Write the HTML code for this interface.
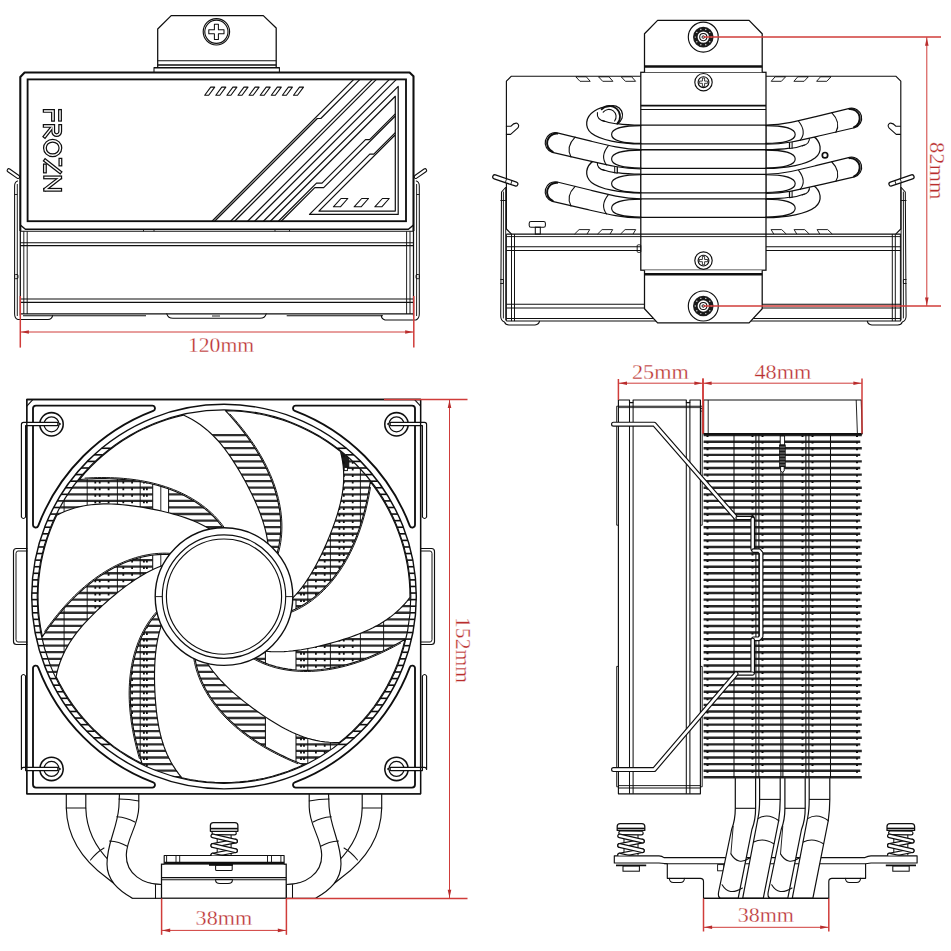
<!DOCTYPE html>
<html><head><meta charset="utf-8"><title>Cooler dimensions</title>
<style>
html,body{margin:0;padding:0;background:#fff;}
body{width:951px;height:951px;overflow:hidden;font-family:"Liberation Serif",serif;}
svg{display:block;}
svg text{font-family:"Liberation Serif",serif;}
svg .sans{font-family:"Liberation Sans",sans-serif;}
</style></head><body>
<svg width="951" height="951" viewBox="0 0 951 951">
<rect x="0" y="0" width="951" height="951" fill="#ffffff"/>
<g id="v1">
<polyline points="157.70,67.60 157.70,29.00 171.20,15.60 263.30,15.60 276.20,28.00 276.20,67.60" fill="none" stroke="#0f0f0f" stroke-width="1.265" stroke-linejoin="round" />
<line x1="157.70" y1="60.80" x2="276.20" y2="60.80" stroke="#0f0f0f" stroke-width="1.035" />
<line x1="157.70" y1="65.00" x2="276.20" y2="65.00" stroke="#0f0f0f" stroke-width="1.495" />
<polyline points="157.70,67.60 154.00,67.60 154.00,72.00" fill="none" stroke="#0f0f0f" stroke-width="1.035" stroke-linejoin="round" />
<polyline points="276.20,67.60 279.40,67.60 279.40,72.00" fill="none" stroke="#0f0f0f" stroke-width="1.035" stroke-linejoin="round" />
<line x1="154.00" y1="67.80" x2="279.40" y2="67.80" stroke="#0f0f0f" stroke-width="1.38" />
<circle cx="216.40" cy="31.80" r="13.20" fill="none" stroke="#0f0f0f" stroke-width="1.15" />
<circle cx="216.40" cy="31.80" r="11.60" fill="none" stroke="#0f0f0f" stroke-width="1.15" />
<polygon points="214.40,24.20 218.40,24.20 218.40,29.80 224.00,29.80 224.00,33.80 218.40,33.80 218.40,39.40 214.40,39.40 214.40,33.80 208.80,33.80 208.80,29.80 214.40,29.80" fill="none" stroke="#0f0f0f" stroke-width="1.035" stroke-linejoin="round" />
<path d="M17.6,181 Q14.6,182 14.6,186 L14.6,314 Q14.6,318.5 18,319.6 L48,319.6 Q52,319 52.6,315.6" fill="none" stroke="#0f0f0f" stroke-width="1.035" stroke-linejoin="round" stroke-linecap="round" />
<line x1="17.30" y1="184.00" x2="17.30" y2="316.00" stroke="#0f0f0f" stroke-width="0.92" />
<line x1="14.60" y1="194.50" x2="17.30" y2="194.50" stroke="#0f0f0f" stroke-width="0.92" />
<rect x="14.60" y="274.50" width="3.40" height="4.20" rx="1" fill="none" stroke="#0f0f0f" stroke-width="0.92" />
<line x1="8.8" y1="170.4" x2="18.0" y2="176.8" stroke="#0f0f0f" stroke-width="4.4" stroke-linecap="round"/>
<line x1="8.8" y1="170.4" x2="18.0" y2="176.8" stroke="#fff" stroke-width="2.2" stroke-linecap="round"/>
<line x1="425.0" y1="170.4" x2="415.8" y2="176.8" stroke="#0f0f0f" stroke-width="4.4" stroke-linecap="round"/>
<line x1="425.0" y1="170.4" x2="415.8" y2="176.8" stroke="#fff" stroke-width="2.2" stroke-linecap="round"/>
<path d="M416.3,181 Q419.3,182 419.3,186 L419.3,314 Q419.3,318.5 416,319.9 L385,319.9 Q381.5,319 381.3,315.6" fill="none" stroke="#0f0f0f" stroke-width="1.035" stroke-linejoin="round" stroke-linecap="round" />
<line x1="416.60" y1="184.00" x2="416.60" y2="316.00" stroke="#0f0f0f" stroke-width="0.92" />
<line x1="416.60" y1="194.50" x2="419.30" y2="194.50" stroke="#0f0f0f" stroke-width="0.92" />
<rect x="416.00" y="274.50" width="3.40" height="4.20" rx="1" fill="none" stroke="#0f0f0f" stroke-width="0.92" />
<polyline points="20.30,231.00 20.30,77.00 24.60,72.50 409.60,72.50 413.50,76.20 413.50,231.00" fill="#fff" stroke="#0f0f0f" stroke-width="2.07" stroke-linejoin="round" />
<polyline points="20.30,225.00 25.40,229.30 408.40,229.30 413.50,225.00" fill="none" stroke="#0f0f0f" stroke-width="1.495" stroke-linejoin="round" />
<rect x="27.60" y="79.40" width="378.40" height="141.80" rx="0" fill="none" stroke="#0f0f0f" stroke-width="1.84" />
<path d="M44.7,110.9 L53.0,110.9 L53.0,119.7" fill="none" stroke="#0f0f0f" stroke-width="3.9" stroke-linecap="square" stroke-linejoin="miter" stroke-miterlimit="6"/>
<path d="M60.0,110.9 L60.0,119.7" fill="none" stroke="#0f0f0f" stroke-width="3.9" stroke-linecap="square" stroke-linejoin="miter" stroke-miterlimit="6"/>
<path d="M44.7,125.9 L53.2,125.9 L53.2,131.6 A3.5,3.5 0 0 0 60.2,131.6 L60.2,125.9" fill="none" stroke="#0f0f0f" stroke-width="3.9" stroke-linecap="square" stroke-linejoin="miter" stroke-miterlimit="6"/>
<path d="M51.6,127.9 L44.8,136.4" fill="none" stroke="#0f0f0f" stroke-width="3.9" stroke-linecap="square" stroke-linejoin="miter" stroke-miterlimit="6"/>
<path d="M44.9,148 A7.75,7.3 0 1 0 60.4,148 A7.75,7.3 0 1 0 44.9,148 Z" fill="none" stroke="#0f0f0f" stroke-width="3.9" stroke-linecap="square" stroke-linejoin="miter" stroke-miterlimit="6"/>
<path d="M45.3,160.6 L60.0,172.1" fill="none" stroke="#0f0f0f" stroke-width="3.9" stroke-linecap="square" stroke-linejoin="miter" stroke-miterlimit="6"/>
<path d="M60.4,159.7 L60.4,164.5" fill="none" stroke="#0f0f0f" stroke-width="3.9" stroke-linecap="square" stroke-linejoin="miter" stroke-miterlimit="6"/>
<path d="M44.9,165.4 L44.9,171.5" fill="none" stroke="#0f0f0f" stroke-width="3.9" stroke-linecap="square" stroke-linejoin="miter" stroke-miterlimit="6"/>
<path d="M45.1,177.4 L60.2,177.4" fill="none" stroke="#0f0f0f" stroke-width="3.9" stroke-linecap="square" stroke-linejoin="miter" stroke-miterlimit="6"/>
<path d="M45.1,189.8 L60.2,189.8" fill="none" stroke="#0f0f0f" stroke-width="3.9" stroke-linecap="square" stroke-linejoin="miter" stroke-miterlimit="6"/>
<path d="M59.6,178.2 L45.7,189.0" fill="none" stroke="#0f0f0f" stroke-width="3.9" stroke-linecap="square" stroke-linejoin="miter" stroke-miterlimit="6"/>
<path d="M44.7,110.9 L53.0,110.9 L53.0,119.7" fill="none" stroke="#fff" stroke-width="1.45" stroke-linecap="square" stroke-linejoin="miter" stroke-miterlimit="6"/>
<path d="M60.0,110.9 L60.0,119.7" fill="none" stroke="#fff" stroke-width="1.45" stroke-linecap="square" stroke-linejoin="miter" stroke-miterlimit="6"/>
<path d="M44.7,125.9 L53.2,125.9 L53.2,131.6 A3.5,3.5 0 0 0 60.2,131.6 L60.2,125.9" fill="none" stroke="#fff" stroke-width="1.45" stroke-linecap="square" stroke-linejoin="miter" stroke-miterlimit="6"/>
<path d="M51.6,127.9 L44.8,136.4" fill="none" stroke="#fff" stroke-width="1.45" stroke-linecap="square" stroke-linejoin="miter" stroke-miterlimit="6"/>
<path d="M44.9,148 A7.75,7.3 0 1 0 60.4,148 A7.75,7.3 0 1 0 44.9,148 Z" fill="none" stroke="#fff" stroke-width="1.45" stroke-linecap="square" stroke-linejoin="miter" stroke-miterlimit="6"/>
<path d="M45.3,160.6 L60.0,172.1" fill="none" stroke="#fff" stroke-width="1.45" stroke-linecap="square" stroke-linejoin="miter" stroke-miterlimit="6"/>
<path d="M60.4,159.7 L60.4,164.5" fill="none" stroke="#fff" stroke-width="1.45" stroke-linecap="square" stroke-linejoin="miter" stroke-miterlimit="6"/>
<path d="M44.9,165.4 L44.9,171.5" fill="none" stroke="#fff" stroke-width="1.45" stroke-linecap="square" stroke-linejoin="miter" stroke-miterlimit="6"/>
<path d="M45.1,177.4 L60.2,177.4" fill="none" stroke="#fff" stroke-width="1.45" stroke-linecap="square" stroke-linejoin="miter" stroke-miterlimit="6"/>
<path d="M45.1,189.8 L60.2,189.8" fill="none" stroke="#fff" stroke-width="1.45" stroke-linecap="square" stroke-linejoin="miter" stroke-miterlimit="6"/>
<path d="M59.6,178.2 L45.7,189.0" fill="none" stroke="#fff" stroke-width="1.45" stroke-linecap="square" stroke-linejoin="miter" stroke-miterlimit="6"/>
<polygon points="204.70,95.30 208.70,95.30 214.70,87.10 210.70,87.10" fill="none" stroke="#0f0f0f" stroke-width="1.092" stroke-linejoin="round" />
<polygon points="215.80,95.30 219.80,95.30 225.80,87.10 221.80,87.10" fill="none" stroke="#0f0f0f" stroke-width="1.092" stroke-linejoin="round" />
<polygon points="226.90,95.30 230.90,95.30 236.90,87.10 232.90,87.10" fill="none" stroke="#0f0f0f" stroke-width="1.092" stroke-linejoin="round" />
<polygon points="238.00,95.30 242.00,95.30 248.00,87.10 244.00,87.10" fill="none" stroke="#0f0f0f" stroke-width="1.092" stroke-linejoin="round" />
<polygon points="249.10,95.30 253.10,95.30 259.10,87.10 255.10,87.10" fill="none" stroke="#0f0f0f" stroke-width="1.092" stroke-linejoin="round" />
<polygon points="260.20,95.30 264.20,95.30 270.20,87.10 266.20,87.10" fill="none" stroke="#0f0f0f" stroke-width="1.092" stroke-linejoin="round" />
<polygon points="271.30,95.30 275.30,95.30 281.30,87.10 277.30,87.10" fill="none" stroke="#0f0f0f" stroke-width="1.092" stroke-linejoin="round" />
<polygon points="282.40,95.30 286.40,95.30 292.40,87.10 288.40,87.10" fill="none" stroke="#0f0f0f" stroke-width="1.092" stroke-linejoin="round" />
<polygon points="293.50,95.30 297.50,95.30 303.50,87.10 299.50,87.10" fill="none" stroke="#0f0f0f" stroke-width="1.092" stroke-linejoin="round" />
<polygon points="333.40,206.80 340.40,206.80 347.80,198.50 341.00,198.50" fill="none" stroke="#0f0f0f" stroke-width="1.092" stroke-linejoin="round" />
<polygon points="354.10,206.80 361.10,206.80 368.50,198.50 361.70,198.50" fill="none" stroke="#0f0f0f" stroke-width="1.092" stroke-linejoin="round" />
<polygon points="374.80,206.80 381.80,206.80 389.20,198.50 382.40,198.50" fill="none" stroke="#0f0f0f" stroke-width="1.092" stroke-linejoin="round" />
<line x1="212.00" y1="221.20" x2="353.80" y2="79.40" stroke="#0f0f0f" stroke-width="1.208" />
<polyline points="214.60,221.20 317.30,118.50 320.80,118.50 359.90,79.40" fill="none" stroke="#0f0f0f" stroke-width="1.208" stroke-linejoin="round" />
<line x1="230.60" y1="221.20" x2="372.40" y2="79.40" stroke="#0f0f0f" stroke-width="1.208" />
<line x1="234.60" y1="221.20" x2="376.40" y2="79.40" stroke="#0f0f0f" stroke-width="1.208" />
<line x1="247.60" y1="221.20" x2="389.40" y2="79.40" stroke="#0f0f0f" stroke-width="1.208" />
<line x1="254.60" y1="221.20" x2="396.40" y2="79.40" stroke="#0f0f0f" stroke-width="1.208" />
<polyline points="263.40,221.20 398.20,86.40 398.20,214.40 309.50,214.40 369.80,154.10 373.80,154.10 395.30,132.60" fill="none" stroke="#0f0f0f" stroke-width="1.208" stroke-linejoin="round" />
<polyline points="270.40,221.20 395.30,96.30 395.30,211.10 318.90,211.10 395.30,134.70" fill="none" stroke="#0f0f0f" stroke-width="1.208" stroke-linejoin="round" />
<polyline points="278.40,221.20 316.50,183.10 322.00,183.10 365.50,139.60 369.60,139.60 395.30,113.90" fill="none" stroke="#0f0f0f" stroke-width="1.208" stroke-linejoin="round" />
<polyline points="281.20,221.20 314.80,187.60 323.70,187.60 395.30,116.00" fill="none" stroke="#0f0f0f" stroke-width="1.208" stroke-linejoin="round" />
<line x1="20.30" y1="231.30" x2="413.50" y2="231.30" stroke="#0f0f0f" stroke-width="1.035" />
<line x1="20.30" y1="242.70" x2="413.50" y2="242.70" stroke="#0f0f0f" stroke-width="1.15" />
<line x1="20.30" y1="245.60" x2="413.50" y2="245.60" stroke="#0f0f0f" stroke-width="1.15" />
<line x1="20.30" y1="299.00" x2="413.50" y2="299.00" stroke="#0f0f0f" stroke-width="1.15" />
<line x1="20.30" y1="302.40" x2="413.50" y2="302.40" stroke="#0f0f0f" stroke-width="1.15" />
<line x1="20.30" y1="313.80" x2="413.50" y2="313.80" stroke="#0f0f0f" stroke-width="1.15" />
<line x1="20.30" y1="231.00" x2="20.30" y2="315.60" stroke="#0f0f0f" stroke-width="1.265" />
<line x1="413.50" y1="231.00" x2="413.50" y2="315.60" stroke="#0f0f0f" stroke-width="1.265" />
<line x1="23.80" y1="231.30" x2="23.80" y2="314.00" stroke="#0f0f0f" stroke-width="0.92" />
<line x1="27.20" y1="231.30" x2="27.20" y2="314.00" stroke="#0f0f0f" stroke-width="0.92" />
<line x1="410.00" y1="231.30" x2="410.00" y2="314.00" stroke="#0f0f0f" stroke-width="0.92" />
<line x1="406.60" y1="231.30" x2="406.60" y2="314.00" stroke="#0f0f0f" stroke-width="0.92" />
<line x1="23.00" y1="315.70" x2="146.00" y2="315.70" stroke="#0f0f0f" stroke-width="1.035" />
<line x1="286.70" y1="315.70" x2="383.00" y2="315.70" stroke="#0f0f0f" stroke-width="1.035" />
<path d="M166.8,313.8 Q168,318.3 173,318.3 L260,318.3 Q265,318.3 266.2,313.8" fill="none" stroke="#0f0f0f" stroke-width="1.035" stroke-linejoin="round" stroke-linecap="round" />
<line x1="212.00" y1="316.00" x2="220.00" y2="316.00" stroke="#0f0f0f" stroke-width="0.92" />
<line x1="143.50" y1="229.30" x2="143.50" y2="231.30" stroke="#0f0f0f" stroke-width="0.92" />
<line x1="154.00" y1="229.30" x2="154.00" y2="231.30" stroke="#0f0f0f" stroke-width="0.92" />
<line x1="275.00" y1="229.30" x2="275.00" y2="231.30" stroke="#0f0f0f" stroke-width="0.92" />
<line x1="289.50" y1="229.30" x2="289.50" y2="231.30" stroke="#0f0f0f" stroke-width="0.92" />
</g>
<g id="v2">
<polyline points="511.50,234.10 506.40,229.00 506.40,81.20 511.40,76.20 895.80,76.20 900.80,81.20 900.80,229.00 895.70,234.10" fill="#fff" stroke="#0f0f0f" stroke-width="1.15" stroke-linejoin="round" />
<polygon points="575.80,76.80 586.30,76.80 590.20,81.30 580.00,81.30" fill="none" stroke="#0f0f0f" stroke-width="0.92" stroke-linejoin="round" />
<polygon points="831.00,76.80 820.50,76.80 816.60,81.30 826.80,81.30" fill="none" stroke="#0f0f0f" stroke-width="0.92" stroke-linejoin="round" />
<polygon points="598.50,76.80 609.00,76.80 612.90,81.30 602.70,81.30" fill="none" stroke="#0f0f0f" stroke-width="0.92" stroke-linejoin="round" />
<polygon points="808.30,76.80 797.80,76.80 793.90,81.30 804.10,81.30" fill="none" stroke="#0f0f0f" stroke-width="0.92" stroke-linejoin="round" />
<polygon points="621.20,76.80 631.70,76.80 635.60,81.30 625.40,81.30" fill="none" stroke="#0f0f0f" stroke-width="0.92" stroke-linejoin="round" />
<polygon points="785.60,76.80 775.10,76.80 771.20,81.30 781.40,81.30" fill="none" stroke="#0f0f0f" stroke-width="0.92" stroke-linejoin="round" />
<polyline points="574.50,234.10 579.10,229.60 589.70,229.60 587.00,234.10" fill="none" stroke="#0f0f0f" stroke-width="0.92" stroke-linejoin="round" />
<polyline points="832.30,234.10 827.70,229.60 817.10,229.60 819.80,234.10" fill="none" stroke="#0f0f0f" stroke-width="0.92" stroke-linejoin="round" />
<polyline points="597.50,234.10 602.10,229.60 612.70,229.60 610.00,234.10" fill="none" stroke="#0f0f0f" stroke-width="0.92" stroke-linejoin="round" />
<polyline points="809.30,234.10 804.70,229.60 794.10,229.60 796.80,234.10" fill="none" stroke="#0f0f0f" stroke-width="0.92" stroke-linejoin="round" />
<polyline points="620.50,234.10 625.10,229.60 635.70,229.60 633.00,234.10" fill="none" stroke="#0f0f0f" stroke-width="0.92" stroke-linejoin="round" />
<polyline points="786.30,234.10 781.70,229.60 771.10,229.60 773.80,234.10" fill="none" stroke="#0f0f0f" stroke-width="0.92" stroke-linejoin="round" />
<path d="M506.40,126.20 L511.00,126.20 Q514.00,122.60 517.00,123.20 Q520.00,125.00 517.60,128.20 L510.60,134.40 L506.40,134.40" fill="none" stroke="#0f0f0f" stroke-width="1.092" stroke-linejoin="round" stroke-linecap="round" />
<line x1="494.80" y1="176.9" x2="515.80" y2="184.0" stroke="#0f0f0f" stroke-width="5.4" stroke-linecap="round"/>
<line x1="494.80" y1="176.9" x2="515.80" y2="184.0" stroke="#fff" stroke-width="2.9" stroke-linecap="round"/>
<path d="M506.60,178.60 L505.40,182.60" fill="none" stroke="#0f0f0f" stroke-width="0.92" stroke-linejoin="round" stroke-linecap="round" />
<path d="M512.00,180.40 L510.80,184.40" fill="none" stroke="#0f0f0f" stroke-width="0.92" stroke-linejoin="round" stroke-linecap="round" />
<path d="M505.60,187.50 L501.50,192.00 L500.70,316.00 Q500.70,320.50 504.50,322.00 Q505.50,324.90 509.00,324.90 L535.00,324.90 Q539.00,324.50 539.50,321.20" fill="none" stroke="#0f0f0f" stroke-width="1.035" stroke-linejoin="round" stroke-linecap="round" />
<path d="M503.40,192.00 L503.40,318.00" fill="none" stroke="#0f0f0f" stroke-width="0.92" stroke-linejoin="round" stroke-linecap="round" />
<path d="M505.70,188.00 L505.70,320.00" fill="none" stroke="#0f0f0f" stroke-width="0.92" stroke-linejoin="round" stroke-linecap="round" />
<path d="M500.70,200.50 L505.70,200.50" fill="none" stroke="#0f0f0f" stroke-width="0.92" stroke-linejoin="round" stroke-linecap="round" />
<path d="M500.70,279.50 L503.40,279.50 L503.40,283.50 L500.70,283.50" fill="none" stroke="#0f0f0f" stroke-width="0.92" stroke-linejoin="round" stroke-linecap="round" />
<path d="M900.40,126.20 L895.80,126.20 Q892.80,122.60 889.80,123.20 Q886.80,125.00 889.20,128.20 L896.20,134.40 L900.40,134.40" fill="none" stroke="#0f0f0f" stroke-width="1.092" stroke-linejoin="round" stroke-linecap="round" />
<line x1="912.00" y1="176.9" x2="891.00" y2="184.0" stroke="#0f0f0f" stroke-width="5.4" stroke-linecap="round"/>
<line x1="912.00" y1="176.9" x2="891.00" y2="184.0" stroke="#fff" stroke-width="2.9" stroke-linecap="round"/>
<path d="M900.20,178.60 L901.40,182.60" fill="none" stroke="#0f0f0f" stroke-width="0.92" stroke-linejoin="round" stroke-linecap="round" />
<path d="M894.80,180.40 L896.00,184.40" fill="none" stroke="#0f0f0f" stroke-width="0.92" stroke-linejoin="round" stroke-linecap="round" />
<path d="M901.20,187.50 L905.30,192.00 L906.10,316.00 Q906.10,320.50 902.30,322.00 Q901.30,324.90 897.80,324.90 L871.80,324.90 Q867.80,324.50 867.30,321.20" fill="none" stroke="#0f0f0f" stroke-width="1.035" stroke-linejoin="round" stroke-linecap="round" />
<path d="M903.40,192.00 L903.40,318.00" fill="none" stroke="#0f0f0f" stroke-width="0.92" stroke-linejoin="round" stroke-linecap="round" />
<path d="M901.10,188.00 L901.10,320.00" fill="none" stroke="#0f0f0f" stroke-width="0.92" stroke-linejoin="round" stroke-linecap="round" />
<path d="M906.10,200.50 L901.10,200.50" fill="none" stroke="#0f0f0f" stroke-width="0.92" stroke-linejoin="round" stroke-linecap="round" />
<path d="M906.10,279.50 L903.40,279.50 L903.40,283.50 L906.10,283.50" fill="none" stroke="#0f0f0f" stroke-width="0.92" stroke-linejoin="round" stroke-linecap="round" />
<rect x="529.20" y="221.40" width="16.20" height="5.80" rx="1.8" fill="none" stroke="#0f0f0f" stroke-width="1.035" />
<rect x="535.30" y="227.20" width="5.00" height="6.90" rx="0" fill="none" stroke="#0f0f0f" stroke-width="1.035" />
<line x1="506.40" y1="234.10" x2="900.80" y2="234.10" stroke="#0f0f0f" stroke-width="1.15" />
<line x1="506.40" y1="236.60" x2="900.80" y2="236.60" stroke="#0f0f0f" stroke-width="0.92" />
<line x1="506.40" y1="246.70" x2="900.80" y2="246.70" stroke="#0f0f0f" stroke-width="1.15" />
<line x1="506.40" y1="250.50" x2="900.80" y2="250.50" stroke="#0f0f0f" stroke-width="1.15" />
<line x1="506.40" y1="304.20" x2="900.80" y2="304.20" stroke="#0f0f0f" stroke-width="1.15" />
<line x1="506.40" y1="308.00" x2="900.80" y2="308.00" stroke="#0f0f0f" stroke-width="1.15" />
<line x1="506.40" y1="318.60" x2="900.80" y2="318.60" stroke="#0f0f0f" stroke-width="1.035" />
<line x1="506.40" y1="321.10" x2="900.80" y2="321.10" stroke="#0f0f0f" stroke-width="1.035" />
<line x1="506.40" y1="234.10" x2="506.40" y2="321.10" stroke="#0f0f0f" stroke-width="0.977" />
<line x1="900.40" y1="234.10" x2="900.40" y2="321.10" stroke="#0f0f0f" stroke-width="0.977" />
<line x1="511.50" y1="234.10" x2="511.50" y2="321.10" stroke="#0f0f0f" stroke-width="0.977" />
<line x1="895.30" y1="234.10" x2="895.30" y2="321.10" stroke="#0f0f0f" stroke-width="0.977" />
<line x1="514.50" y1="234.10" x2="514.50" y2="321.10" stroke="#0f0f0f" stroke-width="0.977" />
<line x1="892.30" y1="234.10" x2="892.30" y2="321.10" stroke="#0f0f0f" stroke-width="0.977" />
<path d="M641.00,143.90 C620.00,143.90 600.00,140.00 591.50,133.30 C584.00,127.00 585.50,117.00 594.00,111.30 C598.00,108.40 603.00,106.60 608.80,106.60 A8.9,8.9 0 0 1 617.30,123.60 C625.00,124.80 633.00,125.10 641.00,125.10 Z" fill="#fff" stroke="#0f0f0f" stroke-width="1.265" stroke-linejoin="round" stroke-linecap="round" />
<path d="M603.20,112.20 A6.6,6.6 0 0 1 614.60,121.00" fill="none" stroke="#0f0f0f" stroke-width="1.092" stroke-linejoin="round" stroke-linecap="round" />
<path d="M601.60,109.40 A8.9,8.9 0 0 1 617.30,123.60" fill="none" stroke="#0f0f0f" stroke-width="1.725" stroke-linejoin="round" stroke-linecap="round" />
<path d="M597.40,112.60 Q596.50,119.50 604.60,121.40" fill="none" stroke="#0f0f0f" stroke-width="1.092" stroke-linejoin="round" stroke-linecap="round" />
<path d="M602.40,120.40 C608.00,122.60 612.00,123.40 617.30,124.00" fill="none" stroke="#0f0f0f" stroke-width="1.092" stroke-linejoin="round" stroke-linecap="round" />
<path d="M641.00,193.00 C620.00,193.00 600.00,189.10 591.50,182.40 C584.00,176.10 585.50,166.10 594.00,160.40 L617.30,164.10 L617.30,172.70 C625.00,173.90 633.00,174.20 641.00,174.20 Z" fill="#fff" stroke="#0f0f0f" stroke-width="1.265" stroke-linejoin="round" stroke-linecap="round" />
<path d="M614.70,164.10 L614.70,172.70" fill="none" stroke="#0f0f0f" stroke-width="1.035" stroke-linejoin="round" stroke-linecap="round" />
<path d="M597.40,161.70 Q596.50,168.60 604.60,170.50" fill="none" stroke="#0f0f0f" stroke-width="1.092" stroke-linejoin="round" stroke-linecap="round" />
<path d="M602.40,169.50 C608.00,171.70 612.00,172.50 617.30,173.10" fill="none" stroke="#0f0f0f" stroke-width="1.092" stroke-linejoin="round" stroke-linecap="round" />
<path d="M765.80,168.45 C786.80,168.45 806.80,164.55 815.30,157.85 C822.80,151.55 821.30,141.55 812.80,135.85 L789.50,139.55 L789.50,148.15 C781.80,149.35 773.80,149.65 765.80,149.65 Z" fill="#fff" stroke="#0f0f0f" stroke-width="1.265" stroke-linejoin="round" stroke-linecap="round" />
<path d="M792.10,139.55 L792.10,148.15" fill="none" stroke="#0f0f0f" stroke-width="1.035" stroke-linejoin="round" stroke-linecap="round" />
<path d="M809.40,137.15 Q810.30,144.05 802.20,145.95" fill="none" stroke="#0f0f0f" stroke-width="1.092" stroke-linejoin="round" stroke-linecap="round" />
<path d="M804.40,144.95 C798.80,147.15 794.80,147.95 789.50,148.55" fill="none" stroke="#0f0f0f" stroke-width="1.092" stroke-linejoin="round" stroke-linecap="round" />
<path d="M765.80,217.55 C786.80,217.55 806.80,213.65 815.30,206.95 C822.80,200.65 821.30,190.65 812.80,184.95 L789.50,188.65 L789.50,197.25 C781.80,198.45 773.80,198.75 765.80,198.75 Z" fill="#fff" stroke="#0f0f0f" stroke-width="1.265" stroke-linejoin="round" stroke-linecap="round" />
<path d="M792.10,188.65 L792.10,197.25" fill="none" stroke="#0f0f0f" stroke-width="1.035" stroke-linejoin="round" stroke-linecap="round" />
<path d="M809.40,186.25 Q810.30,193.15 802.20,195.05" fill="none" stroke="#0f0f0f" stroke-width="1.092" stroke-linejoin="round" stroke-linecap="round" />
<path d="M804.40,194.05 C798.80,196.25 794.80,197.05 789.50,197.65" fill="none" stroke="#0f0f0f" stroke-width="1.092" stroke-linejoin="round" stroke-linecap="round" />
<path d="M641.00,149.70 C622.00,149.20 607.00,145.20 590.00,140.90 L557.20,132.90 A10.0,10.0 0 0 0 552.40,152.30 L584.70,159.80 C606.00,164.80 620.00,168.60 641.00,168.80 Z" fill="#fff" stroke="#0f0f0f" stroke-width="1.208" stroke-linejoin="round" stroke-linecap="round" />
<path d="M557.30,133.60 A9.5,9.5 0 0 0 552.80,151.80" fill="none" stroke="#0f0f0f" stroke-width="1.955" stroke-linejoin="round" stroke-linecap="round" />
<path d="M575.10,137.20 Q565.50,147.00 571.00,157.00" fill="none" stroke="#0f0f0f" stroke-width="1.092" stroke-linejoin="round" stroke-linecap="round" />
<path d="M608.20,145.80 Q599.80,156.50 606.60,164.80" fill="none" stroke="#0f0f0f" stroke-width="1.092" stroke-linejoin="round" stroke-linecap="round" />
<path d="M641.00,198.80 C622.00,198.30 607.00,194.30 590.00,190.00 L557.20,182.00 A10.0,10.0 0 0 0 552.40,201.40 L584.70,208.90 C606.00,213.90 620.00,217.70 641.00,217.90 Z" fill="#fff" stroke="#0f0f0f" stroke-width="1.208" stroke-linejoin="round" stroke-linecap="round" />
<path d="M557.30,182.70 A9.5,9.5 0 0 0 552.80,200.90" fill="none" stroke="#0f0f0f" stroke-width="1.955" stroke-linejoin="round" stroke-linecap="round" />
<path d="M575.10,186.30 Q565.50,196.10 571.00,206.10" fill="none" stroke="#0f0f0f" stroke-width="1.092" stroke-linejoin="round" stroke-linecap="round" />
<path d="M608.20,194.90 Q599.80,205.60 606.60,213.90" fill="none" stroke="#0f0f0f" stroke-width="1.092" stroke-linejoin="round" stroke-linecap="round" />
<path d="M765.80,125.15 C784.80,124.65 799.80,120.65 816.80,116.35 L849.60,108.35 A10.0,10.0 0 0 1 854.40,127.75 L822.10,135.25 C800.80,140.25 786.80,144.05 765.80,144.25 Z" fill="#fff" stroke="#0f0f0f" stroke-width="1.208" stroke-linejoin="round" stroke-linecap="round" />
<path d="M849.50,109.05 A9.5,9.5 0 0 1 854.00,127.25" fill="none" stroke="#0f0f0f" stroke-width="1.955" stroke-linejoin="round" stroke-linecap="round" />
<path d="M831.70,112.65 Q841.30,122.45 835.80,132.45" fill="none" stroke="#0f0f0f" stroke-width="1.092" stroke-linejoin="round" stroke-linecap="round" />
<path d="M798.60,121.25 Q807.00,131.95 800.20,140.25" fill="none" stroke="#0f0f0f" stroke-width="1.092" stroke-linejoin="round" stroke-linecap="round" />
<path d="M765.80,174.25 C784.80,173.75 799.80,169.75 816.80,165.45 L849.60,157.45 A10.0,10.0 0 0 1 854.40,176.85 L822.10,184.35 C800.80,189.35 786.80,193.15 765.80,193.35 Z" fill="#fff" stroke="#0f0f0f" stroke-width="1.208" stroke-linejoin="round" stroke-linecap="round" />
<path d="M849.50,158.15 A9.5,9.5 0 0 1 854.00,176.35" fill="none" stroke="#0f0f0f" stroke-width="1.955" stroke-linejoin="round" stroke-linecap="round" />
<path d="M831.70,161.75 Q841.30,171.55 835.80,181.55" fill="none" stroke="#0f0f0f" stroke-width="1.092" stroke-linejoin="round" stroke-linecap="round" />
<path d="M798.60,170.35 Q807.00,181.05 800.20,189.35" fill="none" stroke="#0f0f0f" stroke-width="1.092" stroke-linejoin="round" stroke-linecap="round" />
<circle cx="825.00" cy="155.20" r="2.70" fill="none" stroke="#0f0f0f" stroke-width="1.725" />
<rect x="640.80" y="72.30" width="125.20" height="197.90" rx="0" fill="#fff" stroke="#0f0f0f" stroke-width="1.265" />
<line x1="640.80" y1="125.20" x2="766.00" y2="125.20" stroke="#0f0f0f" stroke-width="1.265" />
<line x1="640.80" y1="143.80" x2="766.00" y2="143.80" stroke="#0f0f0f" stroke-width="1.265" />
<path d="M641.00,125.60 C624.00,125.60 611.60,128.40 611.60,134.50 C611.60,140.60 624.00,143.40 641.00,143.40" fill="none" stroke="#0f0f0f" stroke-width="1.15" stroke-linejoin="round" stroke-linecap="round" />
<path d="M765.80,125.60 C782.80,125.60 795.20,128.40 795.20,134.50 C795.20,140.60 782.80,143.40 765.80,143.40" fill="none" stroke="#0f0f0f" stroke-width="1.15" stroke-linejoin="round" stroke-linecap="round" />
<line x1="640.80" y1="149.75" x2="766.00" y2="149.75" stroke="#0f0f0f" stroke-width="1.265" />
<line x1="640.80" y1="168.35" x2="766.00" y2="168.35" stroke="#0f0f0f" stroke-width="1.265" />
<path d="M641.00,150.15 C624.00,150.15 611.60,152.95 611.60,159.05 C611.60,165.15 624.00,167.95 641.00,167.95" fill="none" stroke="#0f0f0f" stroke-width="1.15" stroke-linejoin="round" stroke-linecap="round" />
<path d="M765.80,150.15 C782.80,150.15 795.20,152.95 795.20,159.05 C795.20,165.15 782.80,167.95 765.80,167.95" fill="none" stroke="#0f0f0f" stroke-width="1.15" stroke-linejoin="round" stroke-linecap="round" />
<line x1="640.80" y1="174.30" x2="766.00" y2="174.30" stroke="#0f0f0f" stroke-width="1.265" />
<line x1="640.80" y1="192.90" x2="766.00" y2="192.90" stroke="#0f0f0f" stroke-width="1.265" />
<path d="M641.00,174.70 C624.00,174.70 611.60,177.50 611.60,183.60 C611.60,189.70 624.00,192.50 641.00,192.50" fill="none" stroke="#0f0f0f" stroke-width="1.15" stroke-linejoin="round" stroke-linecap="round" />
<path d="M765.80,174.70 C782.80,174.70 795.20,177.50 795.20,183.60 C795.20,189.70 782.80,192.50 765.80,192.50" fill="none" stroke="#0f0f0f" stroke-width="1.15" stroke-linejoin="round" stroke-linecap="round" />
<line x1="640.80" y1="198.85" x2="766.00" y2="198.85" stroke="#0f0f0f" stroke-width="1.265" />
<line x1="640.80" y1="217.45" x2="766.00" y2="217.45" stroke="#0f0f0f" stroke-width="1.265" />
<path d="M641.00,199.25 C624.00,199.25 611.60,202.05 611.60,208.15 C611.60,214.25 624.00,217.05 641.00,217.05" fill="none" stroke="#0f0f0f" stroke-width="1.15" stroke-linejoin="round" stroke-linecap="round" />
<path d="M765.80,199.25 C782.80,199.25 795.20,202.05 795.20,208.15 C795.20,214.25 782.80,217.05 765.80,217.05" fill="none" stroke="#0f0f0f" stroke-width="1.15" stroke-linejoin="round" stroke-linecap="round" />
<line x1="640.80" y1="105.60" x2="766.00" y2="105.60" stroke="#0f0f0f" stroke-width="1.725" />
<line x1="640.80" y1="109.40" x2="766.00" y2="109.40" stroke="#0f0f0f" stroke-width="1.035" />
<line x1="640.80" y1="234.10" x2="766.00" y2="234.10" stroke="#0f0f0f" stroke-width="1.15" />
<line x1="640.80" y1="236.60" x2="766.00" y2="236.60" stroke="#0f0f0f" stroke-width="0.92" />
<rect x="637.20" y="244.80" width="3.60" height="7.60" rx="1" fill="none" stroke="#0f0f0f" stroke-width="0.92" />
<polyline points="644.50,72.30 644.50,33.70 657.60,20.40 749.10,20.40 762.20,33.70 762.20,72.30" fill="#fff" stroke="#0f0f0f" stroke-width="1.265" stroke-linejoin="round" />
<line x1="644.50" y1="66.40" x2="762.20" y2="66.40" stroke="#0f0f0f" stroke-width="2.53" />
<polyline points="644.50,270.20 644.50,308.80 657.60,322.90 749.10,322.90 762.20,308.80 762.20,270.20" fill="#fff" stroke="#0f0f0f" stroke-width="1.265" stroke-linejoin="round" />
<line x1="644.50" y1="274.20" x2="762.20" y2="274.20" stroke="#0f0f0f" stroke-width="2.53" />
<circle cx="703.30" cy="37.10" r="15.00" fill="none" stroke="#0f0f0f" stroke-width="1.15" />
<circle cx="703.30" cy="37.10" r="8.00" fill="none" stroke="#1a1a1a" stroke-width="4.6" />
<circle cx="711.30" cy="37.10" r="0.7" fill="#ddd"/>
<circle cx="709.77" cy="41.80" r="0.7" fill="#ddd"/>
<circle cx="705.77" cy="44.71" r="0.7" fill="#ddd"/>
<circle cx="700.83" cy="44.71" r="0.7" fill="#ddd"/>
<circle cx="696.83" cy="41.80" r="0.7" fill="#ddd"/>
<circle cx="695.30" cy="37.10" r="0.7" fill="#ddd"/>
<circle cx="696.83" cy="32.40" r="0.7" fill="#ddd"/>
<circle cx="700.83" cy="29.49" r="0.7" fill="#ddd"/>
<circle cx="705.77" cy="29.49" r="0.7" fill="#ddd"/>
<circle cx="709.77" cy="32.40" r="0.7" fill="#ddd"/>
<circle cx="703.30" cy="37.10" r="3.60" fill="none" stroke="#0f0f0f" stroke-width="1.035" />
<circle cx="703.30" cy="37.10" r="1.30" fill="none" stroke="#0f0f0f" stroke-width="0.92" />
<circle cx="703.30" cy="306.00" r="15.00" fill="none" stroke="#0f0f0f" stroke-width="1.15" />
<circle cx="703.30" cy="306.00" r="8.00" fill="none" stroke="#1a1a1a" stroke-width="4.6" />
<circle cx="711.30" cy="306.00" r="0.7" fill="#ddd"/>
<circle cx="709.77" cy="310.70" r="0.7" fill="#ddd"/>
<circle cx="705.77" cy="313.61" r="0.7" fill="#ddd"/>
<circle cx="700.83" cy="313.61" r="0.7" fill="#ddd"/>
<circle cx="696.83" cy="310.70" r="0.7" fill="#ddd"/>
<circle cx="695.30" cy="306.00" r="0.7" fill="#ddd"/>
<circle cx="696.83" cy="301.30" r="0.7" fill="#ddd"/>
<circle cx="700.83" cy="298.39" r="0.7" fill="#ddd"/>
<circle cx="705.77" cy="298.39" r="0.7" fill="#ddd"/>
<circle cx="709.77" cy="301.30" r="0.7" fill="#ddd"/>
<circle cx="703.30" cy="306.00" r="3.60" fill="none" stroke="#0f0f0f" stroke-width="1.035" />
<circle cx="703.30" cy="306.00" r="1.30" fill="none" stroke="#0f0f0f" stroke-width="0.92" />
<circle cx="703.50" cy="82.20" r="8.70" fill="none" stroke="#0f0f0f" stroke-width="1.15" />
<circle cx="703.50" cy="82.20" r="5.40" fill="none" stroke="#0f0f0f" stroke-width="1.15" />
<polygon points="702.40,78.00 704.60,78.00 704.60,81.10 707.70,81.10 707.70,83.30 704.60,83.30 704.60,86.40 702.40,86.40 702.40,83.30 699.30,83.30 699.30,81.10 702.40,81.10" fill="none" stroke="#0f0f0f" stroke-width="0.805" stroke-linejoin="round" />
<circle cx="703.50" cy="260.60" r="8.70" fill="none" stroke="#0f0f0f" stroke-width="1.15" />
<circle cx="703.50" cy="260.60" r="5.40" fill="none" stroke="#0f0f0f" stroke-width="1.15" />
<polygon points="702.40,256.40 704.60,256.40 704.60,259.50 707.70,259.50 707.70,261.70 704.60,261.70 704.60,264.80 702.40,264.80 702.40,261.70 699.30,261.70 699.30,259.50 702.40,259.50" fill="none" stroke="#0f0f0f" stroke-width="0.805" stroke-linejoin="round" />
</g>
<g id="v3">
<defs><clipPath id="fanclip"><circle cx="224.0" cy="596.6" r="192.3"/></clipPath></defs>
<path d="M66.30,793.00 L66.30,808.00 C67.00,840.00 85.00,862.00 107.00,878.00 L132.50,898.20 L161.60,898.20 L161.60,884.50 C125.00,884.50 87.00,850.00 85.80,808.00 L85.80,793.00 Z" fill="#fff" stroke="#0f0f0f" stroke-width="1.15" stroke-linejoin="round" stroke-linecap="round" />
<path d="M66.30,808.00 L85.80,808.00" fill="none" stroke="#0f0f0f" stroke-width="1.035" stroke-linejoin="round" stroke-linecap="round" />
<path d="M90.50,860.00 Q97.00,852.00 104.00,848.00" fill="none" stroke="#0f0f0f" stroke-width="1.035" stroke-linejoin="round" stroke-linecap="round" />
<path d="M119.50,793.00 L118.90,807.00 C117.00,830.00 107.00,842.00 107.00,864.00 C107.00,880.00 118.00,890.00 132.50,898.20 L161.60,898.20 L161.60,884.50 C143.00,884.50 126.00,874.00 126.30,855.00 C126.50,838.00 138.60,826.00 138.80,807.00 L138.80,793.00 Z" fill="#fff" stroke="#0f0f0f" stroke-width="1.15" stroke-linejoin="round" stroke-linecap="round" />
<path d="M119.00,799.00 Q129.00,799.00 138.80,801.00" fill="none" stroke="#0f0f0f" stroke-width="1.035" stroke-linejoin="round" stroke-linecap="round" />
<path d="M116.80,816.80 Q127.00,817.50 134.80,822.00" fill="none" stroke="#0f0f0f" stroke-width="1.035" stroke-linejoin="round" stroke-linecap="round" />
<path d="M109.50,841.00 Q119.00,841.50 127.30,846.30" fill="none" stroke="#0f0f0f" stroke-width="1.035" stroke-linejoin="round" stroke-linecap="round" />
<path d="M155.50,884.50 L155.50,898.20" fill="none" stroke="#0f0f0f" stroke-width="1.035" stroke-linejoin="round" stroke-linecap="round" />
<path d="M381.70,793.00 L381.70,808.00 C381.00,840.00 363.00,862.00 341.00,878.00 L315.50,898.20 L286.40,898.20 L286.40,884.50 C323.00,884.50 361.00,850.00 362.20,808.00 L362.20,793.00 Z" fill="#fff" stroke="#0f0f0f" stroke-width="1.15" stroke-linejoin="round" stroke-linecap="round" />
<path d="M381.70,808.00 L362.20,808.00" fill="none" stroke="#0f0f0f" stroke-width="1.035" stroke-linejoin="round" stroke-linecap="round" />
<path d="M357.50,860.00 Q351.00,852.00 344.00,848.00" fill="none" stroke="#0f0f0f" stroke-width="1.035" stroke-linejoin="round" stroke-linecap="round" />
<path d="M328.50,793.00 L329.10,807.00 C331.00,830.00 341.00,842.00 341.00,864.00 C341.00,880.00 330.00,890.00 315.50,898.20 L286.40,898.20 L286.40,884.50 C305.00,884.50 322.00,874.00 321.70,855.00 C321.50,838.00 309.40,826.00 309.20,807.00 L309.20,793.00 Z" fill="#fff" stroke="#0f0f0f" stroke-width="1.15" stroke-linejoin="round" stroke-linecap="round" />
<path d="M329.00,799.00 Q319.00,799.00 309.20,801.00" fill="none" stroke="#0f0f0f" stroke-width="1.035" stroke-linejoin="round" stroke-linecap="round" />
<path d="M331.20,816.80 Q321.00,817.50 313.20,822.00" fill="none" stroke="#0f0f0f" stroke-width="1.035" stroke-linejoin="round" stroke-linecap="round" />
<path d="M338.50,841.00 Q329.00,841.50 320.70,846.30" fill="none" stroke="#0f0f0f" stroke-width="1.035" stroke-linejoin="round" stroke-linecap="round" />
<path d="M292.50,884.50 L292.50,898.20" fill="none" stroke="#0f0f0f" stroke-width="1.035" stroke-linejoin="round" stroke-linecap="round" />
<rect x="161.50" y="864.20" width="124.70" height="34.00" rx="0" fill="#fff" stroke="#0f0f0f" stroke-width="1.265" />
<line x1="161.50" y1="877.60" x2="286.20" y2="877.60" stroke="#0f0f0f" stroke-width="1.15" />
<line x1="161.50" y1="879.80" x2="286.20" y2="879.80" stroke="#0f0f0f" stroke-width="1.035" />
<polyline points="164.20,864.20 164.20,855.50 284.10,855.50 284.10,864.20" fill="#fff" stroke="#0f0f0f" stroke-width="1.15" stroke-linejoin="round" />
<line x1="164.20" y1="862.90" x2="284.10" y2="862.90" stroke="#0f0f0f" stroke-width="2.07" />
<line x1="166.60" y1="855.50" x2="166.60" y2="862.50" stroke="#0f0f0f" stroke-width="0.92" />
<line x1="176.00" y1="855.50" x2="176.00" y2="862.50" stroke="#0f0f0f" stroke-width="0.92" />
<line x1="179.70" y1="855.50" x2="179.70" y2="862.50" stroke="#0f0f0f" stroke-width="0.92" />
<line x1="267.50" y1="855.50" x2="267.50" y2="862.50" stroke="#0f0f0f" stroke-width="0.92" />
<line x1="271.50" y1="855.50" x2="271.50" y2="862.50" stroke="#0f0f0f" stroke-width="0.92" />
<line x1="280.90" y1="855.50" x2="280.90" y2="862.50" stroke="#0f0f0f" stroke-width="0.92" />
<clipPath id="spc210_831"><rect x="207.4" y="830.5" width="33.5" height="24.799999999999955"/></clipPath><g clip-path="url(#spc210_831)">
<line x1="217.20" y1="831.50" x2="217.20" y2="855.30" stroke="#0f0f0f" stroke-width="1.035" />
<line x1="231.10" y1="831.50" x2="231.10" y2="855.30" stroke="#0f0f0f" stroke-width="1.035" />
<line x1="213.85" y1="832.70" x2="234.45" y2="833.10" stroke="#0f0f0f" stroke-width="4.9" stroke-linecap="round"/>
<line x1="213.85" y1="832.70" x2="234.45" y2="833.10" stroke="#fff" stroke-width="2.5" stroke-linecap="round"/>
<line x1="235.45" y1="841.10" x2="212.85" y2="845.50" stroke="#0f0f0f" stroke-width="4.9" stroke-linecap="round"/>
<line x1="235.45" y1="841.10" x2="212.85" y2="845.50" stroke="#fff" stroke-width="2.5" stroke-linecap="round"/>
<line x1="235.45" y1="850.70" x2="212.85" y2="855.10" stroke="#0f0f0f" stroke-width="4.9" stroke-linecap="round"/>
<line x1="235.45" y1="850.70" x2="212.85" y2="855.10" stroke="#fff" stroke-width="2.5" stroke-linecap="round"/>
<line x1="235.45" y1="860.30" x2="212.85" y2="864.70" stroke="#0f0f0f" stroke-width="4.9" stroke-linecap="round"/>
<line x1="235.45" y1="860.30" x2="212.85" y2="864.70" stroke="#fff" stroke-width="2.5" stroke-linecap="round"/>
<line x1="212.85" y1="835.90" x2="235.45" y2="841.10" stroke="#0f0f0f" stroke-width="4.9" stroke-linecap="round"/>
<line x1="212.85" y1="835.90" x2="235.45" y2="841.10" stroke="#fff" stroke-width="2.5" stroke-linecap="round"/>
<line x1="212.85" y1="845.50" x2="235.45" y2="850.70" stroke="#0f0f0f" stroke-width="4.9" stroke-linecap="round"/>
<line x1="212.85" y1="845.50" x2="235.45" y2="850.70" stroke="#fff" stroke-width="2.5" stroke-linecap="round"/>
<line x1="212.85" y1="855.10" x2="235.45" y2="860.30" stroke="#0f0f0f" stroke-width="4.9" stroke-linecap="round"/>
<line x1="212.85" y1="855.10" x2="235.45" y2="860.30" stroke="#fff" stroke-width="2.5" stroke-linecap="round"/>
</g>
<path d="M210.4,831.3 L210.4,825.6 Q210.4,822.6 213.4,822.6 L234.9,822.6 Q237.9,822.6 237.9,825.6 L237.9,831.3 Z" fill="#fff" stroke="#0f0f0f" stroke-width="1.265" stroke-linejoin="round" stroke-linecap="round" />
<line x1="210.40" y1="828.60" x2="237.90" y2="828.60" stroke="#0f0f0f" stroke-width="1.61" />
<rect x="215.60" y="865.00" width="16.60" height="5.60" rx="1" fill="#fff" stroke="#0f0f0f" stroke-width="1.035" />
<line x1="209.00" y1="864.90" x2="233.00" y2="864.90" stroke="#0f0f0f" stroke-width="1.84" />
<path d="M215.5,879.5 L232.5,879.5 Q232.5,883.6 228,883.6 L220,883.6 Q215.5,883.6 215.5,879.5 Z" fill="none" stroke="#0f0f0f" stroke-width="1.035" stroke-linejoin="round" stroke-linecap="round" />
<polygon points="26.80,399.50 420.60,399.50 420.60,793.80 26.80,793.80" fill="#fff" stroke="#0f0f0f" stroke-width="1.265" stroke-linejoin="round" />
<g clip-path="url(#fanclip)">
<line x1="28.00" y1="435.05" x2="420.00" y2="435.05" stroke="#2e2e2e" stroke-width="2.3" />
<line x1="28.00" y1="441.63" x2="420.00" y2="441.63" stroke="#2e2e2e" stroke-width="2.3" />
<line x1="28.00" y1="448.21" x2="420.00" y2="448.21" stroke="#2e2e2e" stroke-width="2.3" />
<line x1="28.00" y1="454.79" x2="420.00" y2="454.79" stroke="#2e2e2e" stroke-width="2.3" />
<line x1="28.00" y1="461.37" x2="420.00" y2="461.37" stroke="#2e2e2e" stroke-width="2.3" />
<line x1="28.00" y1="467.95" x2="420.00" y2="467.95" stroke="#2e2e2e" stroke-width="2.3" />
<line x1="28.00" y1="474.53" x2="420.00" y2="474.53" stroke="#2e2e2e" stroke-width="2.3" />
<line x1="28.00" y1="481.12" x2="420.00" y2="481.12" stroke="#2e2e2e" stroke-width="2.3" />
<line x1="28.00" y1="487.70" x2="420.00" y2="487.70" stroke="#2e2e2e" stroke-width="2.3" />
<line x1="28.00" y1="494.28" x2="420.00" y2="494.28" stroke="#2e2e2e" stroke-width="2.3" />
<line x1="28.00" y1="500.86" x2="420.00" y2="500.86" stroke="#2e2e2e" stroke-width="2.3" />
<line x1="28.00" y1="507.44" x2="420.00" y2="507.44" stroke="#2e2e2e" stroke-width="2.3" />
<line x1="28.00" y1="514.02" x2="420.00" y2="514.02" stroke="#2e2e2e" stroke-width="2.3" />
<line x1="28.00" y1="520.60" x2="420.00" y2="520.60" stroke="#2e2e2e" stroke-width="2.3" />
<line x1="28.00" y1="527.18" x2="420.00" y2="527.18" stroke="#2e2e2e" stroke-width="2.3" />
<line x1="28.00" y1="533.76" x2="420.00" y2="533.76" stroke="#2e2e2e" stroke-width="2.3" />
<line x1="28.00" y1="540.34" x2="420.00" y2="540.34" stroke="#2e2e2e" stroke-width="2.3" />
<line x1="28.00" y1="546.92" x2="420.00" y2="546.92" stroke="#2e2e2e" stroke-width="2.3" />
<line x1="28.00" y1="553.50" x2="420.00" y2="553.50" stroke="#2e2e2e" stroke-width="2.3" />
<line x1="28.00" y1="560.08" x2="420.00" y2="560.08" stroke="#2e2e2e" stroke-width="2.3" />
<line x1="28.00" y1="566.67" x2="420.00" y2="566.67" stroke="#2e2e2e" stroke-width="2.3" />
<line x1="28.00" y1="573.25" x2="420.00" y2="573.25" stroke="#2e2e2e" stroke-width="2.3" />
<line x1="28.00" y1="579.83" x2="420.00" y2="579.83" stroke="#2e2e2e" stroke-width="2.3" />
<line x1="28.00" y1="586.41" x2="420.00" y2="586.41" stroke="#2e2e2e" stroke-width="2.3" />
<line x1="28.00" y1="592.99" x2="420.00" y2="592.99" stroke="#2e2e2e" stroke-width="2.3" />
<line x1="28.00" y1="599.57" x2="420.00" y2="599.57" stroke="#2e2e2e" stroke-width="2.3" />
<line x1="28.00" y1="606.15" x2="420.00" y2="606.15" stroke="#2e2e2e" stroke-width="2.3" />
<line x1="28.00" y1="612.73" x2="420.00" y2="612.73" stroke="#2e2e2e" stroke-width="2.3" />
<line x1="28.00" y1="619.31" x2="420.00" y2="619.31" stroke="#2e2e2e" stroke-width="2.3" />
<line x1="28.00" y1="625.89" x2="420.00" y2="625.89" stroke="#2e2e2e" stroke-width="2.3" />
<line x1="28.00" y1="632.47" x2="420.00" y2="632.47" stroke="#2e2e2e" stroke-width="2.3" />
<line x1="28.00" y1="639.05" x2="420.00" y2="639.05" stroke="#2e2e2e" stroke-width="2.3" />
<line x1="28.00" y1="645.63" x2="420.00" y2="645.63" stroke="#2e2e2e" stroke-width="2.3" />
<line x1="28.00" y1="652.22" x2="420.00" y2="652.22" stroke="#2e2e2e" stroke-width="2.3" />
<line x1="28.00" y1="658.80" x2="420.00" y2="658.80" stroke="#2e2e2e" stroke-width="2.3" />
<line x1="28.00" y1="665.38" x2="420.00" y2="665.38" stroke="#2e2e2e" stroke-width="2.3" />
<line x1="28.00" y1="671.96" x2="420.00" y2="671.96" stroke="#2e2e2e" stroke-width="2.3" />
<line x1="28.00" y1="678.54" x2="420.00" y2="678.54" stroke="#2e2e2e" stroke-width="2.3" />
<line x1="28.00" y1="685.12" x2="420.00" y2="685.12" stroke="#2e2e2e" stroke-width="2.3" />
<line x1="28.00" y1="691.70" x2="420.00" y2="691.70" stroke="#2e2e2e" stroke-width="2.3" />
<line x1="28.00" y1="698.28" x2="420.00" y2="698.28" stroke="#2e2e2e" stroke-width="2.3" />
<line x1="28.00" y1="704.86" x2="420.00" y2="704.86" stroke="#2e2e2e" stroke-width="2.3" />
<line x1="28.00" y1="711.44" x2="420.00" y2="711.44" stroke="#2e2e2e" stroke-width="2.3" />
<line x1="28.00" y1="718.02" x2="420.00" y2="718.02" stroke="#2e2e2e" stroke-width="2.3" />
<line x1="28.00" y1="724.60" x2="420.00" y2="724.60" stroke="#2e2e2e" stroke-width="2.3" />
<line x1="28.00" y1="731.18" x2="420.00" y2="731.18" stroke="#2e2e2e" stroke-width="2.3" />
<line x1="28.00" y1="737.77" x2="420.00" y2="737.77" stroke="#2e2e2e" stroke-width="2.3" />
<line x1="28.00" y1="744.35" x2="420.00" y2="744.35" stroke="#2e2e2e" stroke-width="2.3" />
<line x1="28.00" y1="750.93" x2="420.00" y2="750.93" stroke="#2e2e2e" stroke-width="2.3" />
<line x1="28.00" y1="757.51" x2="420.00" y2="757.51" stroke="#2e2e2e" stroke-width="2.3" />
<line x1="28.00" y1="764.09" x2="420.00" y2="764.09" stroke="#2e2e2e" stroke-width="2.3" />
<line x1="28.00" y1="770.67" x2="420.00" y2="770.67" stroke="#2e2e2e" stroke-width="2.3" />
<line x1="28.00" y1="777.25" x2="420.00" y2="777.25" stroke="#2e2e2e" stroke-width="2.3" />
<line x1="64.10" y1="434.30" x2="64.10" y2="776.50" stroke="#0f0f0f" stroke-width="0.92" />
<line x1="87.20" y1="434.30" x2="87.20" y2="776.50" stroke="#0f0f0f" stroke-width="0.92" />
<line x1="117.40" y1="434.30" x2="117.40" y2="776.50" stroke="#0f0f0f" stroke-width="0.92" />
<line x1="140.20" y1="434.30" x2="140.20" y2="776.50" stroke="#0f0f0f" stroke-width="0.92" />
<line x1="307.80" y1="434.30" x2="307.80" y2="776.50" stroke="#0f0f0f" stroke-width="0.92" />
<line x1="330.40" y1="434.30" x2="330.40" y2="776.50" stroke="#0f0f0f" stroke-width="0.92" />
<line x1="360.40" y1="434.30" x2="360.40" y2="776.50" stroke="#0f0f0f" stroke-width="0.92" />
<line x1="383.60" y1="434.30" x2="383.60" y2="776.50" stroke="#0f0f0f" stroke-width="0.92" />
<rect x="152.70" y="432.30" width="15.90" height="167.70" rx="0" fill="#fff" stroke="#0f0f0f" stroke-width="1.035" />
<rect x="265.40" y="600.00" width="30.60" height="180.50" rx="0" fill="#fff" stroke="#0f0f0f" stroke-width="1.035" />
<line x1="160.80" y1="434.30" x2="160.80" y2="600.00" stroke="#0f0f0f" stroke-width="0.92" />
<rect x="341.70" y="447.90" width="7.10" height="19.50" rx="0" fill="#1c1c1c" stroke="#0f0f0f" stroke-width="0.92" />
<rect x="343.20" y="467.40" width="4.20" height="3.20" rx="0" fill="#fff" stroke="#0f0f0f" stroke-width="0.92" />
<line x1="95.3" y1="435.1" x2="95.3" y2="777.3" stroke="#0f0f0f" stroke-width="1.8" stroke-dasharray="2.4 4.181"/>
<line x1="99.7" y1="435.1" x2="99.7" y2="777.3" stroke="#0f0f0f" stroke-width="1.8" stroke-dasharray="2.4 4.181"/>
<line x1="108.6" y1="435.1" x2="108.6" y2="777.3" stroke="#0f0f0f" stroke-width="1.8" stroke-dasharray="2.4 4.181"/>
<line x1="123.3" y1="435.1" x2="123.3" y2="777.3" stroke="#0f0f0f" stroke-width="1.8" stroke-dasharray="2.4 4.181"/>
<line x1="132.1" y1="435.1" x2="132.1" y2="777.3" stroke="#0f0f0f" stroke-width="1.8" stroke-dasharray="2.4 4.181"/>
<line x1="143.9" y1="435.1" x2="143.9" y2="777.3" stroke="#0f0f0f" stroke-width="1.8" stroke-dasharray="2.4 4.181"/>
<line x1="146.9" y1="435.1" x2="146.9" y2="777.3" stroke="#0f0f0f" stroke-width="1.8" stroke-dasharray="2.4 4.181"/>
<line x1="301" y1="435.1" x2="301" y2="777.3" stroke="#0f0f0f" stroke-width="1.8" stroke-dasharray="2.4 4.181"/>
<line x1="304" y1="435.1" x2="304" y2="777.3" stroke="#0f0f0f" stroke-width="1.8" stroke-dasharray="2.4 4.181"/>
<line x1="315.9" y1="435.1" x2="315.9" y2="777.3" stroke="#0f0f0f" stroke-width="1.8" stroke-dasharray="2.4 4.181"/>
<line x1="324.7" y1="435.1" x2="324.7" y2="777.3" stroke="#0f0f0f" stroke-width="1.8" stroke-dasharray="2.4 4.181"/>
<line x1="339.4" y1="435.1" x2="339.4" y2="777.3" stroke="#0f0f0f" stroke-width="1.8" stroke-dasharray="2.4 4.181"/>
<line x1="343.8" y1="435.1" x2="343.8" y2="777.3" stroke="#0f0f0f" stroke-width="1.8" stroke-dasharray="2.4 4.181"/>
<line x1="352.7" y1="435.1" x2="352.7" y2="777.3" stroke="#0f0f0f" stroke-width="1.8" stroke-dasharray="2.4 4.181"/>
</g>
<circle cx="224.00" cy="596.60" r="189.50" fill="none" stroke="#fff" stroke-width="5.6" />
<line x1="101.63" y1="448.26" x2="110.63" y2="448.26" stroke="#0f0f0f" stroke-width="1.61" />
<line x1="337.37" y1="448.26" x2="346.37" y2="448.26" stroke="#0f0f0f" stroke-width="1.61" />
<line x1="94.06" y1="454.84" x2="102.50" y2="454.84" stroke="#0f0f0f" stroke-width="1.61" />
<line x1="345.50" y1="454.84" x2="353.94" y2="454.84" stroke="#0f0f0f" stroke-width="1.61" />
<line x1="87.23" y1="461.42" x2="95.22" y2="461.42" stroke="#0f0f0f" stroke-width="1.61" />
<line x1="352.78" y1="461.42" x2="360.77" y2="461.42" stroke="#0f0f0f" stroke-width="1.61" />
<line x1="81.02" y1="468.00" x2="88.65" y2="468.00" stroke="#0f0f0f" stroke-width="1.61" />
<line x1="359.35" y1="468.00" x2="366.98" y2="468.00" stroke="#0f0f0f" stroke-width="1.61" />
<line x1="75.37" y1="474.58" x2="82.69" y2="474.58" stroke="#0f0f0f" stroke-width="1.61" />
<line x1="365.31" y1="474.58" x2="372.63" y2="474.58" stroke="#0f0f0f" stroke-width="1.61" />
<line x1="70.20" y1="481.17" x2="77.26" y2="481.17" stroke="#0f0f0f" stroke-width="1.61" />
<line x1="370.74" y1="481.17" x2="377.80" y2="481.17" stroke="#0f0f0f" stroke-width="1.61" />
<line x1="65.48" y1="487.75" x2="72.32" y2="487.75" stroke="#0f0f0f" stroke-width="1.61" />
<line x1="375.68" y1="487.75" x2="382.52" y2="487.75" stroke="#0f0f0f" stroke-width="1.61" />
<line x1="61.15" y1="494.33" x2="67.80" y2="494.33" stroke="#0f0f0f" stroke-width="1.61" />
<line x1="380.20" y1="494.33" x2="386.85" y2="494.33" stroke="#0f0f0f" stroke-width="1.61" />
<line x1="57.20" y1="500.91" x2="63.69" y2="500.91" stroke="#0f0f0f" stroke-width="1.61" />
<line x1="384.31" y1="500.91" x2="390.80" y2="500.91" stroke="#0f0f0f" stroke-width="1.61" />
<line x1="53.59" y1="507.49" x2="59.94" y2="507.49" stroke="#0f0f0f" stroke-width="1.61" />
<line x1="388.06" y1="507.49" x2="394.41" y2="507.49" stroke="#0f0f0f" stroke-width="1.61" />
<line x1="50.31" y1="514.07" x2="56.53" y2="514.07" stroke="#0f0f0f" stroke-width="1.61" />
<line x1="391.47" y1="514.07" x2="397.69" y2="514.07" stroke="#0f0f0f" stroke-width="1.61" />
<line x1="47.33" y1="520.65" x2="53.45" y2="520.65" stroke="#0f0f0f" stroke-width="1.61" />
<line x1="394.55" y1="520.65" x2="400.67" y2="520.65" stroke="#0f0f0f" stroke-width="1.61" />
<line x1="44.65" y1="527.23" x2="50.67" y2="527.23" stroke="#0f0f0f" stroke-width="1.61" />
<line x1="397.33" y1="527.23" x2="403.35" y2="527.23" stroke="#0f0f0f" stroke-width="1.61" />
<line x1="42.24" y1="533.81" x2="48.17" y2="533.81" stroke="#0f0f0f" stroke-width="1.61" />
<line x1="399.83" y1="533.81" x2="405.76" y2="533.81" stroke="#0f0f0f" stroke-width="1.61" />
<line x1="40.10" y1="540.39" x2="45.96" y2="540.39" stroke="#0f0f0f" stroke-width="1.61" />
<line x1="402.04" y1="540.39" x2="407.90" y2="540.39" stroke="#0f0f0f" stroke-width="1.61" />
<line x1="38.21" y1="546.97" x2="44.02" y2="546.97" stroke="#0f0f0f" stroke-width="1.61" />
<line x1="403.98" y1="546.97" x2="409.79" y2="546.97" stroke="#0f0f0f" stroke-width="1.61" />
<line x1="36.58" y1="553.55" x2="42.33" y2="553.55" stroke="#0f0f0f" stroke-width="1.61" />
<line x1="405.67" y1="553.55" x2="411.42" y2="553.55" stroke="#0f0f0f" stroke-width="1.61" />
<line x1="35.19" y1="560.13" x2="40.90" y2="560.13" stroke="#0f0f0f" stroke-width="1.61" />
<line x1="407.10" y1="560.13" x2="412.81" y2="560.13" stroke="#0f0f0f" stroke-width="1.61" />
<line x1="34.04" y1="566.72" x2="39.71" y2="566.72" stroke="#0f0f0f" stroke-width="1.61" />
<line x1="408.29" y1="566.72" x2="413.96" y2="566.72" stroke="#0f0f0f" stroke-width="1.61" />
<line x1="33.12" y1="573.30" x2="38.76" y2="573.30" stroke="#0f0f0f" stroke-width="1.61" />
<line x1="409.24" y1="573.30" x2="414.88" y2="573.30" stroke="#0f0f0f" stroke-width="1.61" />
<line x1="32.43" y1="579.88" x2="38.05" y2="579.88" stroke="#0f0f0f" stroke-width="1.61" />
<line x1="409.95" y1="579.88" x2="415.57" y2="579.88" stroke="#0f0f0f" stroke-width="1.61" />
<line x1="31.97" y1="586.46" x2="37.58" y2="586.46" stroke="#0f0f0f" stroke-width="1.61" />
<line x1="410.42" y1="586.46" x2="416.03" y2="586.46" stroke="#0f0f0f" stroke-width="1.61" />
<line x1="31.73" y1="593.04" x2="37.33" y2="593.04" stroke="#0f0f0f" stroke-width="1.61" />
<line x1="410.67" y1="593.04" x2="416.27" y2="593.04" stroke="#0f0f0f" stroke-width="1.61" />
<line x1="31.72" y1="599.62" x2="37.32" y2="599.62" stroke="#0f0f0f" stroke-width="1.61" />
<line x1="410.68" y1="599.62" x2="416.28" y2="599.62" stroke="#0f0f0f" stroke-width="1.61" />
<line x1="31.94" y1="606.20" x2="37.55" y2="606.20" stroke="#0f0f0f" stroke-width="1.61" />
<line x1="410.45" y1="606.20" x2="416.06" y2="606.20" stroke="#0f0f0f" stroke-width="1.61" />
<line x1="32.38" y1="612.78" x2="38.00" y2="612.78" stroke="#0f0f0f" stroke-width="1.61" />
<line x1="410.00" y1="612.78" x2="415.62" y2="612.78" stroke="#0f0f0f" stroke-width="1.61" />
<line x1="33.05" y1="619.36" x2="38.69" y2="619.36" stroke="#0f0f0f" stroke-width="1.61" />
<line x1="409.31" y1="619.36" x2="414.95" y2="619.36" stroke="#0f0f0f" stroke-width="1.61" />
<line x1="33.95" y1="625.94" x2="39.62" y2="625.94" stroke="#0f0f0f" stroke-width="1.61" />
<line x1="408.38" y1="625.94" x2="414.05" y2="625.94" stroke="#0f0f0f" stroke-width="1.61" />
<line x1="35.09" y1="632.52" x2="40.79" y2="632.52" stroke="#0f0f0f" stroke-width="1.61" />
<line x1="407.21" y1="632.52" x2="412.91" y2="632.52" stroke="#0f0f0f" stroke-width="1.61" />
<line x1="36.46" y1="639.10" x2="42.20" y2="639.10" stroke="#0f0f0f" stroke-width="1.61" />
<line x1="405.80" y1="639.10" x2="411.54" y2="639.10" stroke="#0f0f0f" stroke-width="1.61" />
<line x1="38.07" y1="645.68" x2="43.87" y2="645.68" stroke="#0f0f0f" stroke-width="1.61" />
<line x1="404.13" y1="645.68" x2="409.93" y2="645.68" stroke="#0f0f0f" stroke-width="1.61" />
<line x1="39.93" y1="652.27" x2="45.79" y2="652.27" stroke="#0f0f0f" stroke-width="1.61" />
<line x1="402.21" y1="652.27" x2="408.07" y2="652.27" stroke="#0f0f0f" stroke-width="1.61" />
<line x1="42.05" y1="658.85" x2="47.98" y2="658.85" stroke="#0f0f0f" stroke-width="1.61" />
<line x1="400.02" y1="658.85" x2="405.95" y2="658.85" stroke="#0f0f0f" stroke-width="1.61" />
<line x1="44.44" y1="665.43" x2="50.45" y2="665.43" stroke="#0f0f0f" stroke-width="1.61" />
<line x1="397.55" y1="665.43" x2="403.56" y2="665.43" stroke="#0f0f0f" stroke-width="1.61" />
<line x1="47.10" y1="672.01" x2="53.21" y2="672.01" stroke="#0f0f0f" stroke-width="1.61" />
<line x1="394.79" y1="672.01" x2="400.90" y2="672.01" stroke="#0f0f0f" stroke-width="1.61" />
<line x1="50.05" y1="678.59" x2="56.27" y2="678.59" stroke="#0f0f0f" stroke-width="1.61" />
<line x1="391.73" y1="678.59" x2="397.95" y2="678.59" stroke="#0f0f0f" stroke-width="1.61" />
<line x1="53.31" y1="685.17" x2="59.65" y2="685.17" stroke="#0f0f0f" stroke-width="1.61" />
<line x1="388.35" y1="685.17" x2="394.69" y2="685.17" stroke="#0f0f0f" stroke-width="1.61" />
<line x1="56.89" y1="691.75" x2="63.37" y2="691.75" stroke="#0f0f0f" stroke-width="1.61" />
<line x1="384.63" y1="691.75" x2="391.11" y2="691.75" stroke="#0f0f0f" stroke-width="1.61" />
<line x1="60.81" y1="698.33" x2="67.45" y2="698.33" stroke="#0f0f0f" stroke-width="1.61" />
<line x1="380.55" y1="698.33" x2="387.19" y2="698.33" stroke="#0f0f0f" stroke-width="1.61" />
<line x1="65.10" y1="704.91" x2="71.93" y2="704.91" stroke="#0f0f0f" stroke-width="1.61" />
<line x1="376.07" y1="704.91" x2="382.90" y2="704.91" stroke="#0f0f0f" stroke-width="1.61" />
<line x1="69.80" y1="711.49" x2="76.84" y2="711.49" stroke="#0f0f0f" stroke-width="1.61" />
<line x1="371.16" y1="711.49" x2="378.20" y2="711.49" stroke="#0f0f0f" stroke-width="1.61" />
<line x1="74.92" y1="718.07" x2="82.22" y2="718.07" stroke="#0f0f0f" stroke-width="1.61" />
<line x1="365.78" y1="718.07" x2="373.08" y2="718.07" stroke="#0f0f0f" stroke-width="1.61" />
<line x1="80.54" y1="724.65" x2="88.14" y2="724.65" stroke="#0f0f0f" stroke-width="1.61" />
<line x1="359.86" y1="724.65" x2="367.46" y2="724.65" stroke="#0f0f0f" stroke-width="1.61" />
<line x1="86.69" y1="731.23" x2="94.65" y2="731.23" stroke="#0f0f0f" stroke-width="1.61" />
<line x1="353.35" y1="731.23" x2="361.31" y2="731.23" stroke="#0f0f0f" stroke-width="1.61" />
<line x1="93.47" y1="737.82" x2="101.87" y2="737.82" stroke="#0f0f0f" stroke-width="1.61" />
<line x1="346.13" y1="737.82" x2="354.53" y2="737.82" stroke="#0f0f0f" stroke-width="1.61" />
<line x1="100.97" y1="744.40" x2="109.92" y2="744.40" stroke="#0f0f0f" stroke-width="1.61" />
<line x1="338.08" y1="744.40" x2="347.03" y2="744.40" stroke="#0f0f0f" stroke-width="1.61" />
<circle cx="224.00" cy="596.60" r="192.30" fill="none" stroke="#0f0f0f" stroke-width="1.438" />
<circle cx="224.00" cy="596.60" r="186.80" fill="none" stroke="#0f0f0f" stroke-width="1.15" />
<polygon points="276.10,556.09 277.22,552.56 278.18,548.94 278.99,545.26 279.64,541.50 280.15,537.69 280.50,533.82 280.70,529.91 280.76,525.96 280.66,521.98 280.42,517.98 280.03,513.96 279.51,509.93 278.84,505.89 278.04,501.85 277.10,497.81 276.04,493.79 274.85,489.78 273.53,485.78 272.10,481.81 270.55,477.86 268.90,473.94 267.14,470.06 265.27,466.21 263.31,462.39 261.26,458.62 259.12,454.89 256.90,451.20 254.60,447.55 252.22,443.96 249.77,440.40 247.26,436.90 244.69,433.45 242.07,430.04 239.39,426.68 236.66,423.37 233.90,420.11 231.09,416.89 228.26,413.73 225.39,410.61 233.69,410.85 241.97,411.47 250.22,412.46 258.41,413.81 266.53,415.53 274.57,417.61 282.51,420.04 290.33,422.83 298.02,425.96 305.56,429.43 312.94,433.24 320.14,437.37 327.15,441.82 333.95,446.58 340.54,451.63 341.71,456.58 342.59,461.39 343.20,466.07 343.57,470.62 343.72,475.04 343.68,479.36 343.47,483.57 343.10,487.69 342.58,491.72 341.94,495.67 341.19,499.56 340.33,503.38 339.39,507.15 338.36,510.88 337.26,514.57 336.10,518.24 334.87,521.89 333.58,525.52 332.24,529.15 330.85,532.77 329.40,536.39 327.90,540.03 326.35,543.66 324.74,547.31 323.08,550.97 321.34,554.65 319.54,558.33 317.67,562.02 315.71,565.71 313.66,569.40 311.51,573.08 309.26,576.75 306.89,580.38 304.40,583.98 301.78,587.53 299.02,591.00 296.12,594.39 293.07,597.68 289.86,600.83" fill="#fff" stroke="#0f0f0f" stroke-width="1.15" stroke-linejoin="round" />
<polyline points="277.01,557.28 278.16,553.72 279.16,550.08 280.00,546.36 280.69,542.58 281.22,538.73 281.61,534.83 281.84,530.89 281.92,526.91 281.85,522.90 281.63,518.86 281.27,514.81 280.76,510.75 280.12,506.67 279.33,502.60 278.42,498.53 277.37,494.47 276.20,490.43 274.90,486.40 273.48,482.40 271.95,478.42 270.30,474.47 268.55,470.55 266.70,466.67 264.75,462.82 262.71,459.02 260.58,455.26 258.36,451.54 256.06,447.86 253.69,444.24 251.25,440.66 248.75,437.12 246.18,433.64 243.56,430.21 240.88,426.82 238.16,423.49 235.40,420.20 232.59,416.96 229.76,413.77" fill="none" stroke="#0f0f0f" stroke-width="0.977" stroke-linejoin="round" />
<polygon points="224.81,530.61 222.75,527.53 220.52,524.53 218.14,521.60 215.61,518.74 212.95,515.97 210.14,513.28 207.21,510.69 204.16,508.18 200.99,505.78 197.71,503.47 194.33,501.27 190.84,499.16 187.27,497.17 183.61,495.28 179.87,493.49 176.06,491.81 172.18,490.24 168.24,488.78 164.24,487.42 160.19,486.17 156.10,485.02 151.96,483.98 147.79,483.03 143.59,482.19 139.36,481.44 135.10,480.78 130.83,480.22 126.55,479.75 122.25,479.36 117.95,479.06 113.65,478.84 109.34,478.70 105.04,478.63 100.75,478.63 96.46,478.69 92.18,478.82 87.92,479.01 83.68,479.25 79.45,479.55 84.82,473.21 90.46,467.12 96.38,461.29 102.54,455.73 108.95,450.45 115.59,445.46 122.44,440.78 129.49,436.40 136.74,432.34 144.15,428.61 151.73,425.21 159.45,422.16 167.30,419.45 175.26,417.10 183.32,415.10 187.92,417.27 192.23,419.58 196.26,422.02 200.05,424.57 203.61,427.21 206.96,429.93 210.12,432.73 213.11,435.58 215.94,438.50 218.63,441.46 221.19,444.47 223.65,447.52 226.01,450.61 228.28,453.74 230.49,456.90 232.63,460.10 234.71,463.34 236.75,466.61 238.75,469.92 240.71,473.27 242.65,476.66 244.55,480.09 246.43,483.57 248.28,487.11 250.10,490.69 251.89,494.34 253.65,498.04 255.36,501.81 257.03,505.64 258.63,509.54 260.17,513.52 261.63,517.56 263.00,521.68 264.26,525.87 265.40,530.13 266.40,534.46 267.24,538.84 267.91,543.27 268.37,547.74" fill="#fff" stroke="#0f0f0f" stroke-width="1.15" stroke-linejoin="round" />
<polyline points="226.31,530.64 224.25,527.52 222.02,524.47 219.64,521.50 217.11,518.60 214.43,515.78 211.63,513.05 208.69,510.41 205.63,507.87 202.45,505.42 199.16,503.07 195.76,500.83 192.27,498.69 188.68,496.66 185.01,494.73 181.26,492.91 177.43,491.20 173.54,489.60 169.58,488.10 165.56,486.71 161.50,485.43 157.38,484.25 153.23,483.18 149.04,482.20 144.82,481.33 140.57,480.56 136.30,479.88 132.01,479.29 127.70,478.80 123.39,478.39 119.07,478.06 114.75,477.82 110.42,477.66 106.10,477.57 101.79,477.55 97.48,477.59 93.19,477.71 88.91,477.88 84.65,478.10" fill="none" stroke="#0f0f0f" stroke-width="0.977" stroke-linejoin="round" />
<polygon points="172.91,554.82 169.22,554.52 165.48,554.39 161.71,554.42 157.90,554.61 154.07,554.97 150.22,555.49 146.36,556.16 142.50,556.99 138.65,557.96 134.80,559.09 130.96,560.36 127.15,561.77 123.36,563.32 119.60,565.00 115.87,566.81 112.19,568.75 108.54,570.80 104.94,572.97 101.38,575.25 97.88,577.63 94.43,580.12 91.03,582.70 87.69,585.38 84.41,588.13 81.19,590.98 78.03,593.89 74.92,596.88 71.88,599.94 68.90,603.05 65.99,606.23 63.13,609.46 60.33,612.73 57.59,616.05 54.92,619.41 52.30,622.80 49.73,626.22 47.22,629.67 44.76,633.14 42.36,636.63 40.75,628.48 39.51,620.27 38.64,612.02 38.14,603.73 38.00,595.43 38.24,587.13 38.85,578.85 39.83,570.60 41.17,562.41 42.88,554.29 44.95,546.24 47.37,538.30 50.15,530.48 53.27,522.79 56.74,515.24 61.30,513.00 65.79,511.07 70.21,509.44 74.57,508.06 78.85,506.93 83.07,506.00 87.22,505.28 91.32,504.72 95.36,504.33 99.36,504.07 103.31,503.94 107.23,503.93 111.12,504.01 114.98,504.18 118.83,504.43 122.66,504.75 126.49,505.14 130.32,505.58 134.15,506.08 137.99,506.64 141.85,507.24 145.72,507.89 149.62,508.59 153.53,509.35 157.47,510.16 161.44,511.03 165.43,511.97 169.44,512.98 173.48,514.07 177.53,515.24 181.60,516.52 185.67,517.90 189.75,519.40 193.81,521.02 197.85,522.79 201.85,524.70 205.80,526.78 209.68,529.02 213.47,531.45" fill="#fff" stroke="#0f0f0f" stroke-width="1.15" stroke-linejoin="round" />
<polyline points="173.87,553.67 170.15,553.34 166.37,553.18 162.56,553.19 158.72,553.36 154.85,553.69 150.96,554.18 147.07,554.83 143.17,555.64 139.27,556.60 135.39,557.71 131.52,558.97 127.67,560.36 123.84,561.90 120.04,563.57 116.28,565.37 112.56,567.29 108.88,569.34 105.24,571.50 101.65,573.77 98.11,576.15 94.63,578.63 91.20,581.21 87.82,583.88 84.51,586.64 81.25,589.48 78.06,592.39 74.93,595.38 71.86,598.44 68.85,601.56 65.90,604.73 63.02,607.96 60.19,611.24 57.43,614.56 54.72,617.92 52.08,621.32 49.49,624.74 46.95,628.20 44.47,631.67" fill="none" stroke="#0f0f0f" stroke-width="0.977" stroke-linejoin="round" />
<polygon points="159.48,610.49 156.95,613.19 154.51,616.03 152.18,619.00 149.96,622.10 147.85,625.32 145.85,628.65 143.98,632.08 142.22,635.62 140.57,639.24 139.06,642.95 137.66,646.74 136.38,650.61 135.23,654.53 134.20,658.52 133.30,662.56 132.51,666.65 131.84,670.78 131.29,674.95 130.86,679.15 130.54,683.38 130.33,687.63 130.23,691.89 130.24,696.17 130.35,700.46 130.56,704.75 130.87,709.04 131.27,713.33 131.77,717.61 132.35,721.88 133.01,726.14 133.75,730.39 134.57,734.62 135.46,738.83 136.41,743.02 137.43,747.18 138.51,751.32 139.64,755.43 140.82,759.52 142.05,763.57 134.68,759.75 127.48,755.60 120.48,751.13 113.69,746.36 107.12,741.29 100.78,735.93 94.68,730.29 88.84,724.39 83.28,718.23 77.99,711.82 72.99,705.19 68.30,698.35 63.91,691.30 59.84,684.06 56.10,676.65 57.20,671.68 58.49,666.97 59.97,662.49 61.61,658.23 63.39,654.17 65.30,650.30 67.32,646.60 69.44,643.05 71.66,639.64 73.95,636.36 76.31,633.19 78.74,630.11 81.23,627.13 83.77,624.21 86.36,621.36 89.01,618.56 91.70,615.81 94.43,613.09 97.21,610.41 100.04,607.75 102.91,605.11 105.84,602.49 108.82,599.88 111.85,597.29 114.94,594.72 118.09,592.16 121.31,589.63 124.61,587.12 127.97,584.64 131.42,582.21 134.95,579.82 138.57,577.50 142.28,575.25 146.09,573.08 149.99,571.03 153.98,569.09 158.07,567.30 162.24,565.66 166.49,564.21" fill="#fff" stroke="#0f0f0f" stroke-width="1.15" stroke-linejoin="round" />
<polyline points="159.18,609.02 156.60,611.73 154.12,614.58 151.75,617.57 149.49,620.68 147.33,623.91 145.30,627.26 143.38,630.71 141.58,634.26 139.90,637.90 138.35,641.63 136.92,645.44 135.61,649.32 134.42,653.27 133.36,657.28 132.42,661.34 131.60,665.46 130.91,669.61 130.33,673.80 129.87,678.02 129.52,682.27 129.29,686.55 129.17,690.84 129.15,695.14 129.24,699.45 129.43,703.76 129.72,708.08 130.10,712.39 130.58,716.70 131.14,720.99 131.78,725.28 132.51,729.55 133.31,733.80 134.19,738.03 135.13,742.24 136.13,746.43 137.20,750.59 138.31,754.72 139.48,758.83" fill="none" stroke="#0f0f0f" stroke-width="0.977" stroke-linejoin="round" />
<polygon points="194.63,655.71 195.16,659.37 195.87,663.04 196.74,666.72 197.77,670.39 198.97,674.04 200.33,677.68 201.85,681.29 203.51,684.87 205.33,688.41 207.28,691.91 209.37,695.37 211.60,698.77 213.95,702.12 216.43,705.41 219.02,708.64 221.73,711.81 224.54,714.91 227.46,717.94 230.47,720.89 233.57,723.78 236.77,726.59 240.04,729.33 243.39,731.99 246.81,734.57 250.30,737.08 253.84,739.52 257.45,741.88 261.10,744.16 264.80,746.37 268.55,748.51 272.33,750.58 276.15,752.58 279.99,754.51 283.86,756.37 287.75,758.17 291.66,759.91 295.58,761.59 299.51,763.21 303.45,764.78 295.86,768.16 288.13,771.19 280.28,773.88 272.31,776.22 264.25,778.19 256.10,779.81 247.89,781.06 239.64,781.94 231.35,782.45 223.05,782.60 214.75,782.37 206.47,781.77 198.22,780.81 190.03,779.47 181.90,777.77 178.70,773.83 175.82,769.87 173.24,765.93 170.93,761.99 168.87,758.06 167.04,754.16 165.40,750.27 163.95,746.40 162.67,742.54 161.53,738.71 160.52,734.88 159.63,731.07 158.85,727.26 158.16,723.45 157.54,719.65 157.00,715.84 156.53,712.02 156.11,708.19 155.75,704.34 155.43,700.47 155.16,696.58 154.93,692.65 154.75,688.70 154.62,684.72 154.53,680.69 154.50,676.64 154.52,672.54 154.62,668.40 154.78,664.22 155.02,660.01 155.36,655.76 155.80,651.48 156.35,647.18 157.04,642.85 157.86,638.52 158.83,634.19 159.98,629.88 161.30,625.60 162.82,621.37" fill="#fff" stroke="#0f0f0f" stroke-width="1.15" stroke-linejoin="round" />
<polyline points="193.30,655.02 193.81,658.73 194.49,662.44 195.35,666.16 196.37,669.87 197.55,673.57 198.90,677.25 200.40,680.90 202.05,684.52 203.86,688.10 205.80,691.64 207.89,695.14 210.11,698.58 212.46,701.97 214.93,705.30 217.52,708.57 220.23,711.77 223.04,714.90 225.96,717.97 228.97,720.96 232.08,723.88 235.27,726.73 238.55,729.50 241.90,732.19 245.33,734.81 248.82,737.35 252.37,739.82 255.98,742.21 259.65,744.52 263.36,746.76 267.11,748.93 270.90,751.02 274.72,753.04 278.58,755.00 282.45,756.89 286.35,758.71 290.27,760.48 294.20,762.18 298.14,763.82" fill="none" stroke="#0f0f0f" stroke-width="0.977" stroke-linejoin="round" />
<polygon points="251.90,656.41 255.10,658.28 258.41,660.02 261.82,661.63 265.34,663.11 268.94,664.45 272.63,665.65 276.40,666.72 280.24,667.65 284.14,668.44 288.09,669.10 292.10,669.62 296.15,670.00 300.23,670.25 304.35,670.37 308.49,670.35 312.66,670.21 316.83,669.94 321.02,669.55 325.21,669.04 329.40,668.41 333.59,667.67 337.77,666.81 341.94,665.85 346.09,664.79 350.23,663.63 354.34,662.38 358.44,661.03 362.50,659.59 366.54,658.08 370.54,656.48 374.52,654.82 378.46,653.08 382.37,651.28 386.24,649.41 390.07,647.49 393.86,645.52 397.62,643.50 401.34,641.44 405.02,639.35 402.93,647.38 400.49,655.32 397.69,663.13 394.55,670.82 391.07,678.36 387.25,685.73 383.11,692.93 378.66,699.93 373.89,706.73 368.83,713.31 363.47,719.66 357.84,725.76 351.95,731.60 345.79,737.18 339.40,742.47 334.32,742.51 329.43,742.30 324.74,741.86 320.22,741.21 315.87,740.37 311.67,739.37 307.61,738.22 303.68,736.94 299.86,735.55 296.15,734.04 292.54,732.44 289.00,730.76 285.53,729.00 282.12,727.17 278.77,725.28 275.45,723.32 272.17,721.31 268.91,719.25 265.68,717.14 262.45,714.97 259.24,712.76 256.04,710.49 252.83,708.17 249.63,705.79 246.44,703.34 243.24,700.84 240.05,698.26 236.87,695.61 233.71,692.88 230.57,690.06 227.46,687.15 224.38,684.14 221.36,681.02 218.41,677.79 215.54,674.45 212.76,670.99 210.10,667.40 207.58,663.70 205.22,659.87" fill="#fff" stroke="#0f0f0f" stroke-width="1.15" stroke-linejoin="round" />
<polyline points="250.53,657.03 253.75,658.94 257.08,660.72 260.52,662.37 264.06,663.89 267.69,665.27 271.40,666.51 275.19,667.61 279.05,668.57 282.98,669.40 286.96,670.08 291.00,670.63 295.07,671.04 299.18,671.32 303.33,671.46 307.50,671.48 311.69,671.36 315.89,671.11 320.11,670.74 324.33,670.25 328.55,669.64 332.77,668.92 336.98,668.09 341.17,667.14 345.35,666.10 349.52,664.95 353.66,663.71 357.78,662.38 361.87,660.96 365.94,659.45 369.97,657.87 373.97,656.21 377.94,654.48 381.87,652.69 385.77,650.84 389.62,648.93 393.44,646.96 397.22,644.95 400.97,642.90" fill="none" stroke="#0f0f0f" stroke-width="0.977" stroke-linejoin="round" />
<polygon points="288.16,612.08 291.61,610.75 295.04,609.24 298.43,607.58 301.77,605.75 305.07,603.77 308.31,601.63 311.50,599.35 314.61,596.93 317.67,594.38 320.64,591.69 323.55,588.88 326.37,585.96 329.11,582.92 331.77,579.77 334.34,576.52 336.83,573.18 339.22,569.75 341.52,566.23 343.74,562.64 345.86,558.97 347.89,555.23 349.83,551.43 351.68,547.57 353.44,543.66 355.11,539.70 356.69,535.70 358.19,531.66 359.61,527.59 360.94,523.49 362.19,519.36 363.36,515.22 364.46,511.05 365.49,506.87 366.44,502.69 367.33,498.49 368.16,494.30 368.92,490.10 369.63,485.91 370.28,481.72 375.27,488.37 379.95,495.22 384.31,502.28 388.36,509.53 392.09,516.95 395.47,524.53 398.52,532.26 401.21,540.11 403.56,548.08 405.55,556.14 407.17,564.28 408.43,572.49 409.32,580.74 409.85,589.03 410.00,597.33 406.86,601.33 403.65,605.01 400.37,608.41 397.05,611.53 393.68,614.42 390.28,617.08 386.85,619.53 383.40,621.81 379.93,623.92 376.44,625.88 372.94,627.71 369.42,629.43 365.88,631.04 362.32,632.57 358.75,634.01 355.16,635.38 351.54,636.70 347.90,637.96 344.22,639.17 340.52,640.34 336.79,641.47 333.01,642.56 329.20,643.62 325.35,644.64 321.44,645.61 317.49,646.55 313.49,647.44 309.44,648.27 305.33,649.04 301.17,649.74 296.95,650.35 292.68,650.88 288.36,651.30 283.99,651.59 279.59,651.75 275.15,651.77 270.69,651.61 266.22,651.27 261.76,650.73" fill="#fff" stroke="#0f0f0f" stroke-width="1.15" stroke-linejoin="round" />
<polyline points="287.79,613.53 291.29,612.21 294.76,610.72 298.19,609.06 301.58,607.24 304.92,605.26 308.21,603.13 311.44,600.85 314.60,598.43 317.69,595.88 320.71,593.19 323.65,590.38 326.52,587.45 329.30,584.41 331.99,581.25 334.60,578.00 337.12,574.65 339.55,571.21 341.89,567.69 344.14,564.08 346.29,560.40 348.36,556.65 350.33,552.84 352.21,548.97 354.00,545.05 355.70,541.08 357.31,537.07 358.84,533.02 360.28,528.93 361.64,524.82 362.91,520.68 364.11,516.52 365.24,512.34 366.28,508.14 367.26,503.94 368.17,499.74 369.02,495.52 369.81,491.31 370.53,487.11" fill="none" stroke="#0f0f0f" stroke-width="0.977" stroke-linejoin="round" />
<circle cx="224.00" cy="596.60" r="68.80" fill="#fff" stroke="#0f0f0f" stroke-width="1.38" />
<circle cx="224.00" cy="596.60" r="61.70" fill="none" stroke="#0f0f0f" stroke-width="1.15" />
<circle cx="224.00" cy="596.60" r="57.60" fill="none" stroke="#0f0f0f" stroke-width="1.15" />
<line x1="155.20" y1="596.60" x2="162.30" y2="596.60" stroke="#0f0f0f" stroke-width="0.92" />
<line x1="285.70" y1="596.60" x2="292.80" y2="596.60" stroke="#0f0f0f" stroke-width="0.92" />
<path d="M36.00,405.60 L152.27,405.60 A2.7,2.7 0 0 1 153.23,410.82 A198.8,198.8 0 0 0 38.22,525.83 A2.7,2.7 0 0 1 33.00,524.87 L33.00,408.60 Q33.00,405.60 36.00,405.60 Z" fill="none" stroke="#0f0f0f" stroke-width="1.84" stroke-linejoin="round" stroke-linecap="round" />
<circle cx="51.50" cy="424.30" r="11.70" fill="none" stroke="#0f0f0f" stroke-width="1.552" />
<circle cx="51.50" cy="424.30" r="7.50" fill="none" stroke="#0f0f0f" stroke-width="1.265" />
<path d="M57.50,422.40 L23.50,422.40 Q21.40,422.40 21.40,424.50 L21.40,517.00 Q23.30,520.00 25.60,517.00 L25.60,425.60 L57.50,425.60 L60.50,424.00 Z" fill="#fff" stroke="#0f0f0f" stroke-width="1.15" stroke-linejoin="round" stroke-linecap="round" />
<line x1="57.70" y1="422.40" x2="57.70" y2="425.60" stroke="#0f0f0f" stroke-width="0.92" />
<path d="M36.00,787.60 L152.27,787.60 A2.7,2.7 0 0 0 153.23,782.38 A198.8,198.8 0 0 1 38.22,667.37 A2.7,2.7 0 0 0 33.00,668.33 L33.00,784.60 Q33.00,787.60 36.00,787.60 Z" fill="none" stroke="#0f0f0f" stroke-width="1.84" stroke-linejoin="round" stroke-linecap="round" />
<circle cx="51.50" cy="768.90" r="11.70" fill="none" stroke="#0f0f0f" stroke-width="1.552" />
<circle cx="51.50" cy="768.90" r="7.50" fill="none" stroke="#0f0f0f" stroke-width="1.265" />
<path d="M57.50,767.40 L23.50,767.40 Q21.40,767.40 21.40,769.50 L21.40,676.00 Q23.30,673.00 25.60,676.00 L25.60,770.60 L57.50,770.60 L60.50,769.00 Z" fill="#fff" stroke="#0f0f0f" stroke-width="1.15" stroke-linejoin="round" stroke-linecap="round" />
<line x1="57.70" y1="767.40" x2="57.70" y2="770.60" stroke="#0f0f0f" stroke-width="0.92" />
<path d="M412.00,405.60 L295.73,405.60 A2.7,2.7 0 0 0 294.77,410.82 A198.8,198.8 0 0 1 409.78,525.83 A2.7,2.7 0 0 0 415.00,524.87 L415.00,408.60 Q415.00,405.60 412.00,405.60 Z" fill="none" stroke="#0f0f0f" stroke-width="1.84" stroke-linejoin="round" stroke-linecap="round" />
<circle cx="396.50" cy="424.30" r="11.70" fill="none" stroke="#0f0f0f" stroke-width="1.552" />
<circle cx="396.50" cy="424.30" r="7.50" fill="none" stroke="#0f0f0f" stroke-width="1.265" />
<path d="M390.50,422.40 L424.50,422.40 Q426.60,422.40 426.60,424.50 L426.60,517.00 Q424.70,520.00 422.40,517.00 L422.40,425.60 L390.50,425.60 L387.50,424.00 Z" fill="#fff" stroke="#0f0f0f" stroke-width="1.15" stroke-linejoin="round" stroke-linecap="round" />
<line x1="390.30" y1="422.40" x2="390.30" y2="425.60" stroke="#0f0f0f" stroke-width="0.92" />
<path d="M412.00,787.60 L295.73,787.60 A2.7,2.7 0 0 1 294.77,782.38 A198.8,198.8 0 0 0 409.78,667.37 A2.7,2.7 0 0 1 415.00,668.33 L415.00,784.60 Q415.00,787.60 412.00,787.60 Z" fill="none" stroke="#0f0f0f" stroke-width="1.84" stroke-linejoin="round" stroke-linecap="round" />
<circle cx="396.50" cy="768.90" r="11.70" fill="none" stroke="#0f0f0f" stroke-width="1.552" />
<circle cx="396.50" cy="768.90" r="7.50" fill="none" stroke="#0f0f0f" stroke-width="1.265" />
<path d="M390.50,767.40 L424.50,767.40 Q426.60,767.40 426.60,769.50 L426.60,676.00 Q424.70,673.00 422.40,676.00 L422.40,770.60 L390.50,770.60 L387.50,769.00 Z" fill="#fff" stroke="#0f0f0f" stroke-width="1.15" stroke-linejoin="round" stroke-linecap="round" />
<line x1="390.30" y1="767.40" x2="390.30" y2="770.60" stroke="#0f0f0f" stroke-width="0.92" />
<path d="M27.00,548.5 L16.50,548.5 Q13.50,548.5 13.50,551.5 L13.50,641.5 Q13.50,644.5 16.50,644.5 L27.00,644.5" fill="none" stroke="#0f0f0f" stroke-width="1.15" stroke-linejoin="round" stroke-linecap="round" />
<path d="M27.00,551 L18.00,551 Q16.00,551 16.00,553.5 L16.00,639.5 Q16.00,642 18.00,642 L27.00,642" fill="none" stroke="#0f0f0f" stroke-width="0.977" stroke-linejoin="round" stroke-linecap="round" />
<path d="M421.00,548.5 L431.50,548.5 Q434.50,548.5 434.50,551.5 L434.50,641.5 Q434.50,644.5 431.50,644.5 L421.00,644.5" fill="none" stroke="#0f0f0f" stroke-width="1.15" stroke-linejoin="round" stroke-linecap="round" />
<path d="M421.00,551 L430.00,551 Q432.00,551 432.00,553.5 L432.00,639.5 Q432.00,642 430.00,642 L421.00,642" fill="none" stroke="#0f0f0f" stroke-width="0.977" stroke-linejoin="round" stroke-linecap="round" />
<polygon points="26.80,399.50 420.60,399.50 420.60,793.80 26.80,793.80" fill="none" stroke="#0f0f0f" stroke-width="1.322" stroke-linejoin="round" />
<line x1="26.80" y1="406.10" x2="32.60" y2="399.90" stroke="#0f0f0f" stroke-width="1.15" />
<line x1="420.60" y1="406.10" x2="414.80" y2="399.90" stroke="#0f0f0f" stroke-width="1.15" />
</g>
<g id="v4">
<path d="M614.3,855.8 L659,855.8 Q662,855.8 664,857.6 L865,857.6 Q868,855.8 871,855.8 L917.1,855.8 L917.1,863 L871,863 L865.6,863.8 L865.6,878.3 L832,878.3 Q828.8,878.3 828.8,881.5 L828.8,898.3 L703.5,898.3 L703.5,881.5 Q703.5,878.3 700.3,878.3 L667.3,878.3 L667.3,863.8 L659,863 L614.3,863 Z" fill="#fff" stroke="#0f0f0f" stroke-width="1.15" stroke-linejoin="round" stroke-linecap="round" />
<line x1="664.00" y1="863.80" x2="865.60" y2="863.80" stroke="#0f0f0f" stroke-width="1.035" />
<rect x="717.60" y="864.60" width="6.20" height="6.20" rx="0" fill="none" stroke="#0f0f0f" stroke-width="0.92" />
<path d="M735.3,776.5 L735.3,808.3 C735.3,818 733,826 731.6,829.5 L718.6,892 Q717.6,897 720.5,898.2 L738.2,898.2 L751.9,829.5 C753.3,826 755.6,818 755.6,808.3 L755.6,776.5 Z" fill="#fff" stroke="#0f0f0f" stroke-width="1.208" stroke-linejoin="round" stroke-linecap="round" />
<line x1="735.30" y1="808.30" x2="755.60" y2="808.30" stroke="#0f0f0f" stroke-width="1.092" />
<path d="M730.9,853.9 Q738,866 749.6,858" fill="none" stroke="#0f0f0f" stroke-width="1.092" stroke-linejoin="round" stroke-linecap="round" />
<path d="M722.1,884.8 Q729,896.5 742.4,888" fill="none" stroke="#0f0f0f" stroke-width="1.092" stroke-linejoin="round" stroke-linecap="round" />
<line x1="733.20" y1="826.00" x2="730.90" y2="853.90" stroke="#0f0f0f" stroke-width="0.92" />
<path d="M784.9,776.5 L784.9,808.3 C784.9,818 782.6,826 781.2,829.5 L768.2,892 Q767.2,897 770.1,898.2 L787.8000000000001,898.2 L801.5,829.5 C802.9,826 805.2,818 805.2,808.3 L805.2,776.5 Z" fill="#fff" stroke="#0f0f0f" stroke-width="1.208" stroke-linejoin="round" stroke-linecap="round" />
<line x1="784.90" y1="808.30" x2="805.20" y2="808.30" stroke="#0f0f0f" stroke-width="1.092" />
<path d="M780.5,853.9 Q787.6,866 799.2,858" fill="none" stroke="#0f0f0f" stroke-width="1.092" stroke-linejoin="round" stroke-linecap="round" />
<path d="M771.7,884.8 Q778.6,896.5 792.0,888" fill="none" stroke="#0f0f0f" stroke-width="1.092" stroke-linejoin="round" stroke-linecap="round" />
<line x1="782.80" y1="826.00" x2="780.50" y2="853.90" stroke="#0f0f0f" stroke-width="0.92" />
<path d="M759.6,776.5 L759.6,799.4 C759.6,808 759,813 758.1,817.5 L742.7,898.2 L763.3,898.2 L778.6,821 C779.6,814 780.2,808 780.2,799.4 L780.2,776.5 Z" fill="#fff" stroke="#0f0f0f" stroke-width="1.208" stroke-linejoin="round" stroke-linecap="round" />
<line x1="759.60" y1="799.40" x2="780.20" y2="799.40" stroke="#0f0f0f" stroke-width="1.092" />
<path d="M758.1,818.6 Q768,812.6 778.8,820.8" fill="none" stroke="#0f0f0f" stroke-width="1.092" stroke-linejoin="round" stroke-linecap="round" />
<path d="M753.7,842.1 Q763.3,837.2 773.8,843.8" fill="none" stroke="#0f0f0f" stroke-width="1.092" stroke-linejoin="round" stroke-linecap="round" />
<path d="M809.2,776.5 L809.2,799.4 C809.2,808 808.6,813 807.7,817.5 L792.3000000000001,898.2 L812.9,898.2 L828.2,821 C829.2,814 829.8000000000001,808 829.8000000000001,799.4 L829.8000000000001,776.5 Z" fill="#fff" stroke="#0f0f0f" stroke-width="1.208" stroke-linejoin="round" stroke-linecap="round" />
<line x1="809.20" y1="799.40" x2="829.80" y2="799.40" stroke="#0f0f0f" stroke-width="1.092" />
<path d="M807.7,818.6 Q817.6,812.6 828.4,820.8" fill="none" stroke="#0f0f0f" stroke-width="1.092" stroke-linejoin="round" stroke-linecap="round" />
<path d="M803.3000000000001,842.1 Q812.9,837.2 823.4,843.8" fill="none" stroke="#0f0f0f" stroke-width="1.092" stroke-linejoin="round" stroke-linecap="round" />
<line x1="703.50" y1="898.30" x2="828.80" y2="898.30" stroke="#0f0f0f" stroke-width="1.265" />
<clipPath id="spc617_831"><rect x="614.2" y="830.5" width="33.60000000000002" height="25.100000000000023"/></clipPath><g clip-path="url(#spc617_831)">
<line x1="624.00" y1="831.50" x2="624.00" y2="855.60" stroke="#0f0f0f" stroke-width="1.035" />
<line x1="638.00" y1="831.50" x2="638.00" y2="855.60" stroke="#0f0f0f" stroke-width="1.035" />
<line x1="620.65" y1="832.70" x2="641.35" y2="833.10" stroke="#0f0f0f" stroke-width="4.9" stroke-linecap="round"/>
<line x1="620.65" y1="832.70" x2="641.35" y2="833.10" stroke="#fff" stroke-width="2.5" stroke-linecap="round"/>
<line x1="642.35" y1="841.10" x2="619.65" y2="845.50" stroke="#0f0f0f" stroke-width="4.9" stroke-linecap="round"/>
<line x1="642.35" y1="841.10" x2="619.65" y2="845.50" stroke="#fff" stroke-width="2.5" stroke-linecap="round"/>
<line x1="642.35" y1="850.70" x2="619.65" y2="855.10" stroke="#0f0f0f" stroke-width="4.9" stroke-linecap="round"/>
<line x1="642.35" y1="850.70" x2="619.65" y2="855.10" stroke="#fff" stroke-width="2.5" stroke-linecap="round"/>
<line x1="642.35" y1="860.30" x2="619.65" y2="864.70" stroke="#0f0f0f" stroke-width="4.9" stroke-linecap="round"/>
<line x1="642.35" y1="860.30" x2="619.65" y2="864.70" stroke="#fff" stroke-width="2.5" stroke-linecap="round"/>
<line x1="619.65" y1="835.90" x2="642.35" y2="841.10" stroke="#0f0f0f" stroke-width="4.9" stroke-linecap="round"/>
<line x1="619.65" y1="835.90" x2="642.35" y2="841.10" stroke="#fff" stroke-width="2.5" stroke-linecap="round"/>
<line x1="619.65" y1="845.50" x2="642.35" y2="850.70" stroke="#0f0f0f" stroke-width="4.9" stroke-linecap="round"/>
<line x1="619.65" y1="845.50" x2="642.35" y2="850.70" stroke="#fff" stroke-width="2.5" stroke-linecap="round"/>
<line x1="619.65" y1="855.10" x2="642.35" y2="860.30" stroke="#0f0f0f" stroke-width="4.9" stroke-linecap="round"/>
<line x1="619.65" y1="855.10" x2="642.35" y2="860.30" stroke="#fff" stroke-width="2.5" stroke-linecap="round"/>
</g>
<path d="M617.2,830.4 L617.2,826.6 Q617.2,823.6 620.2,823.6 L641.8000000000001,823.6 Q644.8000000000001,823.6 644.8000000000001,826.6 L644.8000000000001,830.4 Z" fill="#fff" stroke="#0f0f0f" stroke-width="1.265" stroke-linejoin="round" stroke-linecap="round" />
<line x1="617.20" y1="828.40" x2="644.80" y2="828.40" stroke="#0f0f0f" stroke-width="1.495" />
<rect x="623.00" y="866.00" width="16.40" height="5.20" rx="0" fill="#fff" stroke="#0f0f0f" stroke-width="1.035" />
<line x1="616.00" y1="865.40" x2="646.20" y2="865.40" stroke="#0f0f0f" stroke-width="1.725" />
<clipPath id="spc887_831"><rect x="884.0" y="830.5" width="33.60000000000002" height="25.100000000000023"/></clipPath><g clip-path="url(#spc887_831)">
<line x1="893.80" y1="831.50" x2="893.80" y2="855.60" stroke="#0f0f0f" stroke-width="1.035" />
<line x1="907.80" y1="831.50" x2="907.80" y2="855.60" stroke="#0f0f0f" stroke-width="1.035" />
<line x1="890.45" y1="832.70" x2="911.15" y2="833.10" stroke="#0f0f0f" stroke-width="4.9" stroke-linecap="round"/>
<line x1="890.45" y1="832.70" x2="911.15" y2="833.10" stroke="#fff" stroke-width="2.5" stroke-linecap="round"/>
<line x1="912.15" y1="841.10" x2="889.45" y2="845.50" stroke="#0f0f0f" stroke-width="4.9" stroke-linecap="round"/>
<line x1="912.15" y1="841.10" x2="889.45" y2="845.50" stroke="#fff" stroke-width="2.5" stroke-linecap="round"/>
<line x1="912.15" y1="850.70" x2="889.45" y2="855.10" stroke="#0f0f0f" stroke-width="4.9" stroke-linecap="round"/>
<line x1="912.15" y1="850.70" x2="889.45" y2="855.10" stroke="#fff" stroke-width="2.5" stroke-linecap="round"/>
<line x1="912.15" y1="860.30" x2="889.45" y2="864.70" stroke="#0f0f0f" stroke-width="4.9" stroke-linecap="round"/>
<line x1="912.15" y1="860.30" x2="889.45" y2="864.70" stroke="#fff" stroke-width="2.5" stroke-linecap="round"/>
<line x1="889.45" y1="835.90" x2="912.15" y2="841.10" stroke="#0f0f0f" stroke-width="4.9" stroke-linecap="round"/>
<line x1="889.45" y1="835.90" x2="912.15" y2="841.10" stroke="#fff" stroke-width="2.5" stroke-linecap="round"/>
<line x1="889.45" y1="845.50" x2="912.15" y2="850.70" stroke="#0f0f0f" stroke-width="4.9" stroke-linecap="round"/>
<line x1="889.45" y1="845.50" x2="912.15" y2="850.70" stroke="#fff" stroke-width="2.5" stroke-linecap="round"/>
<line x1="889.45" y1="855.10" x2="912.15" y2="860.30" stroke="#0f0f0f" stroke-width="4.9" stroke-linecap="round"/>
<line x1="889.45" y1="855.10" x2="912.15" y2="860.30" stroke="#fff" stroke-width="2.5" stroke-linecap="round"/>
</g>
<path d="M887.0,830.4 L887.0,826.6 Q887.0,823.6 890.0,823.6 L911.6,823.6 Q914.6,823.6 914.6,826.6 L914.6,830.4 Z" fill="#fff" stroke="#0f0f0f" stroke-width="1.265" stroke-linejoin="round" stroke-linecap="round" />
<line x1="887.00" y1="828.40" x2="914.60" y2="828.40" stroke="#0f0f0f" stroke-width="1.495" />
<rect x="892.80" y="866.00" width="16.40" height="5.20" rx="0" fill="#fff" stroke="#0f0f0f" stroke-width="1.035" />
<line x1="885.80" y1="865.40" x2="916.00" y2="865.40" stroke="#0f0f0f" stroke-width="1.725" />
<path d="M669.4,878.3 Q669.4,882.6 673.4,882.6 L680.4,882.6 Q684.4,882.6 684.4,878.3" fill="none" stroke="#0f0f0f" stroke-width="1.035" stroke-linejoin="round" stroke-linecap="round" />
<path d="M845.5,878.3 Q845.5,882.6 849.5,882.6 L856.5,882.6 Q860.5,882.6 860.5,878.3" fill="none" stroke="#0f0f0f" stroke-width="1.035" stroke-linejoin="round" stroke-linecap="round" />
<line x1="703.60" y1="435.10" x2="861.80" y2="435.10" stroke="#262626" stroke-width="2.4" />
<line x1="703.60" y1="441.68" x2="860.30" y2="441.68" stroke="#262626" stroke-width="2.4" />
<line x1="703.60" y1="448.26" x2="861.80" y2="448.26" stroke="#262626" stroke-width="2.4" />
<line x1="703.60" y1="454.84" x2="860.30" y2="454.84" stroke="#262626" stroke-width="2.4" />
<line x1="703.60" y1="461.42" x2="861.80" y2="461.42" stroke="#262626" stroke-width="2.4" />
<line x1="703.60" y1="468.00" x2="860.30" y2="468.00" stroke="#262626" stroke-width="2.4" />
<line x1="703.60" y1="474.58" x2="861.80" y2="474.58" stroke="#262626" stroke-width="2.4" />
<line x1="703.60" y1="481.17" x2="860.30" y2="481.17" stroke="#262626" stroke-width="2.4" />
<line x1="703.60" y1="487.75" x2="861.80" y2="487.75" stroke="#262626" stroke-width="2.4" />
<line x1="703.60" y1="494.33" x2="860.30" y2="494.33" stroke="#262626" stroke-width="2.4" />
<line x1="703.60" y1="500.91" x2="861.80" y2="500.91" stroke="#262626" stroke-width="2.4" />
<line x1="703.60" y1="507.49" x2="860.30" y2="507.49" stroke="#262626" stroke-width="2.4" />
<line x1="703.60" y1="514.07" x2="861.80" y2="514.07" stroke="#262626" stroke-width="2.4" />
<line x1="703.60" y1="520.65" x2="860.30" y2="520.65" stroke="#262626" stroke-width="2.4" />
<line x1="703.60" y1="527.23" x2="861.80" y2="527.23" stroke="#262626" stroke-width="2.4" />
<line x1="703.60" y1="533.81" x2="860.30" y2="533.81" stroke="#262626" stroke-width="2.4" />
<line x1="703.60" y1="540.39" x2="861.80" y2="540.39" stroke="#262626" stroke-width="2.4" />
<line x1="703.60" y1="546.97" x2="860.30" y2="546.97" stroke="#262626" stroke-width="2.4" />
<line x1="703.60" y1="553.55" x2="861.80" y2="553.55" stroke="#262626" stroke-width="2.4" />
<line x1="703.60" y1="560.13" x2="860.30" y2="560.13" stroke="#262626" stroke-width="2.4" />
<line x1="703.60" y1="566.72" x2="861.80" y2="566.72" stroke="#262626" stroke-width="2.4" />
<line x1="703.60" y1="573.30" x2="860.30" y2="573.30" stroke="#262626" stroke-width="2.4" />
<line x1="703.60" y1="579.88" x2="861.80" y2="579.88" stroke="#262626" stroke-width="2.4" />
<line x1="703.60" y1="586.46" x2="860.30" y2="586.46" stroke="#262626" stroke-width="2.4" />
<line x1="703.60" y1="593.04" x2="861.80" y2="593.04" stroke="#262626" stroke-width="2.4" />
<line x1="703.60" y1="599.62" x2="860.30" y2="599.62" stroke="#262626" stroke-width="2.4" />
<line x1="703.60" y1="606.20" x2="861.80" y2="606.20" stroke="#262626" stroke-width="2.4" />
<line x1="703.60" y1="612.78" x2="860.30" y2="612.78" stroke="#262626" stroke-width="2.4" />
<line x1="703.60" y1="619.36" x2="861.80" y2="619.36" stroke="#262626" stroke-width="2.4" />
<line x1="703.60" y1="625.94" x2="860.30" y2="625.94" stroke="#262626" stroke-width="2.4" />
<line x1="703.60" y1="632.52" x2="861.80" y2="632.52" stroke="#262626" stroke-width="2.4" />
<line x1="703.60" y1="639.10" x2="860.30" y2="639.10" stroke="#262626" stroke-width="2.4" />
<line x1="703.60" y1="645.68" x2="861.80" y2="645.68" stroke="#262626" stroke-width="2.4" />
<line x1="703.60" y1="652.27" x2="860.30" y2="652.27" stroke="#262626" stroke-width="2.4" />
<line x1="703.60" y1="658.85" x2="861.80" y2="658.85" stroke="#262626" stroke-width="2.4" />
<line x1="703.60" y1="665.43" x2="860.30" y2="665.43" stroke="#262626" stroke-width="2.4" />
<line x1="703.60" y1="672.01" x2="861.80" y2="672.01" stroke="#262626" stroke-width="2.4" />
<line x1="703.60" y1="678.59" x2="860.30" y2="678.59" stroke="#262626" stroke-width="2.4" />
<line x1="703.60" y1="685.17" x2="861.80" y2="685.17" stroke="#262626" stroke-width="2.4" />
<line x1="703.60" y1="691.75" x2="860.30" y2="691.75" stroke="#262626" stroke-width="2.4" />
<line x1="703.60" y1="698.33" x2="861.80" y2="698.33" stroke="#262626" stroke-width="2.4" />
<line x1="703.60" y1="704.91" x2="860.30" y2="704.91" stroke="#262626" stroke-width="2.4" />
<line x1="703.60" y1="711.49" x2="861.80" y2="711.49" stroke="#262626" stroke-width="2.4" />
<line x1="703.60" y1="718.07" x2="860.30" y2="718.07" stroke="#262626" stroke-width="2.4" />
<line x1="703.60" y1="724.65" x2="861.80" y2="724.65" stroke="#262626" stroke-width="2.4" />
<line x1="703.60" y1="731.23" x2="860.30" y2="731.23" stroke="#262626" stroke-width="2.4" />
<line x1="703.60" y1="737.82" x2="861.80" y2="737.82" stroke="#262626" stroke-width="2.4" />
<line x1="703.60" y1="744.40" x2="860.30" y2="744.40" stroke="#262626" stroke-width="2.4" />
<line x1="703.60" y1="750.98" x2="861.80" y2="750.98" stroke="#262626" stroke-width="2.4" />
<line x1="703.60" y1="757.56" x2="860.30" y2="757.56" stroke="#262626" stroke-width="2.4" />
<line x1="703.60" y1="764.14" x2="861.80" y2="764.14" stroke="#262626" stroke-width="2.4" />
<line x1="703.60" y1="770.72" x2="860.30" y2="770.72" stroke="#262626" stroke-width="2.4" />
<line x1="703.60" y1="777.30" x2="861.80" y2="777.30" stroke="#262626" stroke-width="2.4" />
<line x1="734.00" y1="434.30" x2="734.00" y2="778.00" stroke="#0f0f0f" stroke-width="1.035" />
<line x1="755.90" y1="434.30" x2="755.90" y2="778.00" stroke="#0f0f0f" stroke-width="1.035" />
<line x1="758.90" y1="434.30" x2="758.90" y2="778.00" stroke="#0f0f0f" stroke-width="1.035" />
<line x1="780.90" y1="434.30" x2="780.90" y2="778.00" stroke="#0f0f0f" stroke-width="1.035" />
<line x1="782.90" y1="434.30" x2="782.90" y2="778.00" stroke="#0f0f0f" stroke-width="1.035" />
<line x1="805.90" y1="434.30" x2="805.90" y2="778.00" stroke="#0f0f0f" stroke-width="1.035" />
<line x1="808.90" y1="434.30" x2="808.90" y2="778.00" stroke="#0f0f0f" stroke-width="1.035" />
<line x1="830.50" y1="434.30" x2="830.50" y2="778.00" stroke="#0f0f0f" stroke-width="1.035" />
<line x1="707.5" y1="435.2" x2="707.5" y2="777.5" stroke="#0f0f0f" stroke-width="2.0" stroke-dasharray="1.8 4.781"/>
<line x1="752.5" y1="435.2" x2="752.5" y2="777.5" stroke="#0f0f0f" stroke-width="2.0" stroke-dasharray="1.8 4.781"/>
<line x1="762.5" y1="435.2" x2="762.5" y2="777.5" stroke="#0f0f0f" stroke-width="2.0" stroke-dasharray="1.8 4.781"/>
<line x1="802.5" y1="435.2" x2="802.5" y2="777.5" stroke="#0f0f0f" stroke-width="2.0" stroke-dasharray="1.8 4.781"/>
<line x1="812.5" y1="435.2" x2="812.5" y2="777.5" stroke="#0f0f0f" stroke-width="2.0" stroke-dasharray="1.8 4.781"/>
<line x1="857" y1="435.2" x2="857" y2="777.5" stroke="#0f0f0f" stroke-width="2.0" stroke-dasharray="1.8 4.781"/>
<path d="M703.6,433.6 L703.6,400 L861.3,400 L862.1999999999999,433.6" fill="#fff" stroke="#0f0f0f" stroke-width="1.15" stroke-linejoin="round" stroke-linecap="round" />
<line x1="708.20" y1="400.00" x2="708.20" y2="433.60" stroke="#0f0f0f" stroke-width="0.92" />
<line x1="856.20" y1="400.00" x2="857.40" y2="433.60" stroke="#0f0f0f" stroke-width="0.92" />
<line x1="703.60" y1="433.80" x2="862.20" y2="433.80" stroke="#0f0f0f" stroke-width="1.84" />
<rect x="780.20" y="436.00" width="4.40" height="9.00" rx="0" fill="#fff" stroke="#0f0f0f" stroke-width="0.92" />
<rect x="779.60" y="445.00" width="5.60" height="22.00" rx="0" fill="#1c1c1c" stroke="#0f0f0f" stroke-width="0.92" />
<line x1="779.60" y1="447.00" x2="785.20" y2="447.00" stroke="#ddd" stroke-width="0.5" />
<line x1="779.60" y1="450.00" x2="785.20" y2="450.00" stroke="#ddd" stroke-width="0.5" />
<line x1="779.60" y1="453.00" x2="785.20" y2="453.00" stroke="#ddd" stroke-width="0.5" />
<line x1="779.60" y1="456.00" x2="785.20" y2="456.00" stroke="#ddd" stroke-width="0.5" />
<line x1="779.60" y1="459.00" x2="785.20" y2="459.00" stroke="#ddd" stroke-width="0.5" />
<line x1="779.60" y1="462.00" x2="785.20" y2="462.00" stroke="#ddd" stroke-width="0.5" />
<line x1="779.60" y1="465.00" x2="785.20" y2="465.00" stroke="#ddd" stroke-width="0.5" />
<path d="M780.6,467 L780.6,471 Q782.4,473.5 784.2,471 L784.2,467" fill="#fff" stroke="#0f0f0f" stroke-width="0.92" stroke-linejoin="round" stroke-linecap="round" />
<polygon points="618.40,793.80 618.40,400.00 629.50,400.00 629.50,402.60 633.10,402.60 633.10,400.00 686.30,400.00 686.30,402.60 689.90,402.60 689.90,400.00 700.40,400.00 700.40,793.80" fill="#fff" stroke="#0f0f0f" stroke-width="1.15" stroke-linejoin="round" />
<line x1="629.50" y1="402.60" x2="629.50" y2="793.80" stroke="#0f0f0f" stroke-width="1.035" />
<line x1="633.10" y1="402.60" x2="633.10" y2="793.80" stroke="#0f0f0f" stroke-width="1.035" />
<line x1="686.30" y1="402.60" x2="686.30" y2="793.80" stroke="#0f0f0f" stroke-width="1.035" />
<line x1="689.90" y1="402.60" x2="689.90" y2="793.80" stroke="#0f0f0f" stroke-width="1.035" />
<line x1="618.40" y1="406.20" x2="700.40" y2="406.20" stroke="#0f0f0f" stroke-width="1.035" />
<line x1="618.40" y1="407.60" x2="700.40" y2="407.60" stroke="#0f0f0f" stroke-width="0.805" />
<line x1="618.40" y1="788.00" x2="700.40" y2="788.00" stroke="#0f0f0f" stroke-width="1.035" />
<line x1="618.40" y1="785.60" x2="700.40" y2="785.60" stroke="#0f0f0f" stroke-width="0.92" />
<path d="M618.4,406.2 L616.7,406.2 L616.7,525.2 L618.4,525.2" fill="none" stroke="#0f0f0f" stroke-width="0.92" stroke-linejoin="round" stroke-linecap="round" />
<path d="M618.4,666.4 L616.7,666.4 L616.7,786.8 L618.4,786.8" fill="none" stroke="#0f0f0f" stroke-width="0.92" stroke-linejoin="round" stroke-linecap="round" />
<path d="M700.4,406.2 L702.2,406.2 L702.2,525.2 L700.4,525.2" fill="none" stroke="#0f0f0f" stroke-width="0.92" stroke-linejoin="round" stroke-linecap="round" />
<path d="M700.4,666.4 L702.2,666.4 L702.2,786.8 L700.4,786.8" fill="none" stroke="#0f0f0f" stroke-width="0.92" stroke-linejoin="round" stroke-linecap="round" />
<rect x="700.40" y="408.50" width="2.60" height="2.60" rx="0" fill="none" stroke="#0f0f0f" stroke-width="0.805" />
<path d="M613.50,424.20 L654.20,424.20 L736.00,517.90" fill="none" stroke="#0f0f0f" stroke-width="5.0" stroke-linejoin="round" stroke-linecap="round"/><path d="M613.50,424.20 L654.20,424.20 L736.00,517.90" fill="none" stroke="#fff" stroke-width="2.7" stroke-linejoin="round" stroke-linecap="round"/>
<path d="M737.50,517.90 L752.70,517.90" fill="none" stroke="#0f0f0f" stroke-width="4.3" stroke-linejoin="round" stroke-linecap="round"/><path d="M737.50,517.90 L752.70,517.90" fill="none" stroke="#fff" stroke-width="2.0" stroke-linejoin="round" stroke-linecap="round"/>
<path d="M752.70,519.00 L752.70,549.00" fill="none" stroke="#0f0f0f" stroke-width="4.7" stroke-linejoin="round" stroke-linecap="round"/><path d="M752.70,519.00 L752.70,549.00" fill="none" stroke="#fff" stroke-width="2.4" stroke-linejoin="round" stroke-linecap="round"/>
<path d="M753.50,550.60 L759.00,550.60 L761.10,553.00 L761.10,636.50 L759.00,638.80 L753.50,638.80" fill="none" stroke="#0f0f0f" stroke-width="4.7" stroke-linejoin="round" stroke-linecap="round"/><path d="M753.50,550.60 L759.00,550.60 L761.10,553.00 L761.10,636.50 L759.00,638.80 L753.50,638.80" fill="none" stroke="#fff" stroke-width="2.4" stroke-linejoin="round" stroke-linecap="round"/>
<path d="M752.70,640.00 L752.70,672.00" fill="none" stroke="#0f0f0f" stroke-width="4.7" stroke-linejoin="round" stroke-linecap="round"/><path d="M752.70,640.00 L752.70,672.00" fill="none" stroke="#fff" stroke-width="2.4" stroke-linejoin="round" stroke-linecap="round"/>
<path d="M752.70,673.60 L737.50,673.60" fill="none" stroke="#0f0f0f" stroke-width="4.3" stroke-linejoin="round" stroke-linecap="round"/><path d="M752.70,673.60 L737.50,673.60" fill="none" stroke="#fff" stroke-width="2.0" stroke-linejoin="round" stroke-linecap="round"/>
<path d="M613.50,769.60 L654.20,769.60 L736.00,673.80" fill="none" stroke="#0f0f0f" stroke-width="5.0" stroke-linejoin="round" stroke-linecap="round"/><path d="M613.50,769.60 L654.20,769.60 L736.00,673.80" fill="none" stroke="#fff" stroke-width="2.7" stroke-linejoin="round" stroke-linecap="round"/>
</g>
<g id="dims">
<line x1="20.30" y1="296.00" x2="20.30" y2="347.60" stroke="#d03c3a" stroke-width="1.5" />
<line x1="413.80" y1="296.00" x2="413.80" y2="347.60" stroke="#d03c3a" stroke-width="1.5" />
<line x1="20.30" y1="332.00" x2="413.80" y2="332.00" stroke="#d03c3a" stroke-width="1.0" />
<polygon points="20.90,332.00 28.90,330.20 28.90,333.80" fill="#b92d2d"/>
<polygon points="413.20,332.00 405.20,330.20 405.20,333.80" fill="#b92d2d"/>
<text x="187.9" y="351.5" font-size="20.5" fill="#b92d2d" stroke="#fff" stroke-width="0.3" textLength="66.2" lengthAdjust="spacingAndGlyphs">120mm</text>
<line x1="703.30" y1="37.10" x2="941.00" y2="37.10" stroke="#d03c3a" stroke-width="1.5" />
<line x1="703.30" y1="306.00" x2="941.00" y2="306.00" stroke="#d03c3a" stroke-width="1.5" />
<line x1="926.80" y1="37.10" x2="926.80" y2="306.00" stroke="#d03c3a" stroke-width="1.0" />
<polygon points="926.80,37.70 925.00,45.70 928.60,45.70" fill="#b92d2d"/>
<polygon points="926.80,305.40 925.00,297.40 928.60,297.40" fill="#b92d2d"/>
<text transform="translate(930.3,142.0) rotate(90)" font-size="20.5" fill="#b92d2d" stroke="#fff" stroke-width="0.3" textLength="57.5" lengthAdjust="spacingAndGlyphs">82mm</text>
<line x1="384.00" y1="399.50" x2="467.50" y2="399.50" stroke="#d03c3a" stroke-width="1.5" />
<line x1="286.40" y1="898.40" x2="467.50" y2="898.40" stroke="#d03c3a" stroke-width="1.5" />
<line x1="449.50" y1="399.50" x2="449.50" y2="898.40" stroke="#d03c3a" stroke-width="1.0" />
<polygon points="449.50,400.10 447.70,408.10 451.30,408.10" fill="#b92d2d"/>
<polygon points="449.50,897.80 447.70,889.80 451.30,889.80" fill="#b92d2d"/>
<text transform="translate(456.3,617.0) rotate(90)" font-size="20.5" fill="#b92d2d" stroke="#fff" stroke-width="0.3" textLength="66.2" lengthAdjust="spacingAndGlyphs">152mm</text>
<line x1="161.60" y1="898.40" x2="161.60" y2="934.80" stroke="#d03c3a" stroke-width="1.5" />
<line x1="286.40" y1="898.40" x2="286.40" y2="934.80" stroke="#d03c3a" stroke-width="1.5" />
<line x1="161.60" y1="930.40" x2="286.40" y2="930.40" stroke="#d03c3a" stroke-width="1.0" />
<polygon points="162.20,930.40 170.20,928.60 170.20,932.20" fill="#b92d2d"/>
<polygon points="285.80,930.40 277.80,928.60 277.80,932.20" fill="#b92d2d"/>
<text x="195.6" y="925.2" font-size="20.5" fill="#b92d2d" stroke="#fff" stroke-width="0.3" textLength="56.5" lengthAdjust="spacingAndGlyphs">38mm</text>
<line x1="618.40" y1="379.00" x2="618.40" y2="400.00" stroke="#d03c3a" stroke-width="1.5" />
<line x1="703.00" y1="378.50" x2="703.00" y2="433.60" stroke="#d03c3a" stroke-width="1.5" />
<line x1="618.40" y1="383.20" x2="703.00" y2="383.20" stroke="#d03c3a" stroke-width="1.0" />
<polygon points="619.00,383.20 627.00,381.40 627.00,385.00" fill="#b92d2d"/>
<polygon points="702.40,383.20 694.40,381.40 694.40,385.00" fill="#b92d2d"/>
<text x="632.0" y="378.6" font-size="20.5" fill="#b92d2d" stroke="#fff" stroke-width="0.3" textLength="56.8" lengthAdjust="spacingAndGlyphs">25mm</text>
<line x1="703.00" y1="378.50" x2="703.00" y2="433.60" stroke="#d03c3a" stroke-width="1.5" />
<line x1="862.00" y1="378.50" x2="862.00" y2="433.60" stroke="#d03c3a" stroke-width="1.5" />
<line x1="703.00" y1="383.20" x2="862.00" y2="383.20" stroke="#d03c3a" stroke-width="1.0" />
<polygon points="703.60,383.20 711.60,381.40 711.60,385.00" fill="#b92d2d"/>
<polygon points="861.40,383.20 853.40,381.40 853.40,385.00" fill="#b92d2d"/>
<text x="754.5" y="378.6" font-size="20.5" fill="#b92d2d" stroke="#fff" stroke-width="0.3" textLength="56.8" lengthAdjust="spacingAndGlyphs">48mm</text>
<line x1="703.50" y1="898.40" x2="703.50" y2="931.50" stroke="#d03c3a" stroke-width="1.5" />
<line x1="828.80" y1="898.40" x2="828.80" y2="931.50" stroke="#d03c3a" stroke-width="1.5" />
<line x1="703.50" y1="927.30" x2="828.80" y2="927.30" stroke="#d03c3a" stroke-width="1.0" />
<polygon points="704.10,927.30 712.10,925.50 712.10,929.10" fill="#b92d2d"/>
<polygon points="828.20,927.30 820.20,925.50 820.20,929.10" fill="#b92d2d"/>
<text x="737.7" y="921.8" font-size="20.5" fill="#b92d2d" stroke="#fff" stroke-width="0.3" textLength="56.3" lengthAdjust="spacingAndGlyphs">38mm</text>
</g>
</svg>
</body></html>
